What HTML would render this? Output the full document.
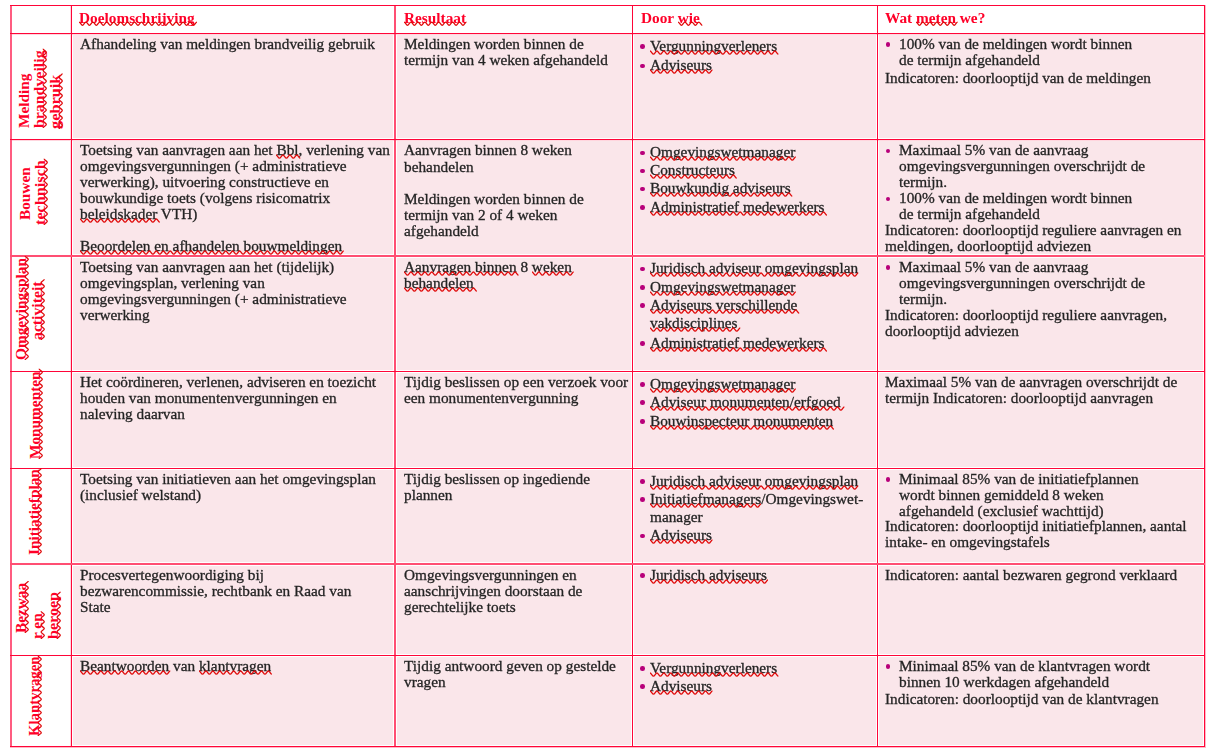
<!DOCTYPE html>
<html><head><meta charset="utf-8"><style>
html,body{margin:0;padding:0;background:#fff;width:1210px;height:751px;overflow:hidden;position:relative}
.t,.h{will-change:transform}
.l{position:absolute;background:#ff0538}
.f{position:absolute;background:#fae6ea}
.t,.h,.r{position:absolute;white-space:nowrap;font-family:"Liberation Serif",serif;font-size:15.3px;line-height:normal;width:0;height:0}
.t>span,.h>span,.r>span{position:absolute;left:0;top:-13.63px}
.t{color:#242424;-webkit-text-stroke:0.3px #242424}
.h{color:#ff0028;font-weight:bold}
.r{color:#ff0028;font-weight:bold;transform:rotate(-90deg);transform-origin:0 0}
svg{position:absolute;overflow:visible}
.b{position:absolute;width:4.6px;height:4.6px;border-radius:50%;background:#b8007a}
</style></head><body>

<div class="f" style="left:73px;top:35px;width:320px;height:103px"></div>
<div class="f" style="left:397px;top:35px;width:234px;height:103px"></div>
<div class="f" style="left:634px;top:35px;width:242px;height:103px"></div>
<div class="f" style="left:879px;top:35px;width:324px;height:103px"></div>
<div class="f" style="left:73px;top:141px;width:320px;height:113px"></div>
<div class="f" style="left:397px;top:141px;width:234px;height:113px"></div>
<div class="f" style="left:634px;top:141px;width:242px;height:113px"></div>
<div class="f" style="left:879px;top:141px;width:324px;height:113px"></div>
<div class="f" style="left:73px;top:258px;width:320px;height:112px"></div>
<div class="f" style="left:397px;top:258px;width:234px;height:112px"></div>
<div class="f" style="left:634px;top:258px;width:242px;height:112px"></div>
<div class="f" style="left:879px;top:258px;width:324px;height:112px"></div>
<div class="f" style="left:73px;top:373px;width:320px;height:94px"></div>
<div class="f" style="left:397px;top:373px;width:234px;height:94px"></div>
<div class="f" style="left:634px;top:373px;width:242px;height:94px"></div>
<div class="f" style="left:879px;top:373px;width:324px;height:94px"></div>
<div class="f" style="left:73px;top:470px;width:320px;height:92px"></div>
<div class="f" style="left:397px;top:470px;width:234px;height:92px"></div>
<div class="f" style="left:634px;top:470px;width:242px;height:92px"></div>
<div class="f" style="left:879px;top:470px;width:324px;height:92px"></div>
<div class="f" style="left:73px;top:566px;width:320px;height:88px"></div>
<div class="f" style="left:397px;top:566px;width:234px;height:88px"></div>
<div class="f" style="left:634px;top:566px;width:242px;height:88px"></div>
<div class="f" style="left:879px;top:566px;width:324px;height:88px"></div>
<div class="f" style="left:73px;top:657px;width:320px;height:88px"></div>
<div class="f" style="left:397px;top:657px;width:234px;height:88px"></div>
<div class="f" style="left:634px;top:657px;width:242px;height:88px"></div>
<div class="f" style="left:879px;top:657px;width:324px;height:88px"></div>
<div class="l" style="left:1205px;top:5px;width:1px;height:743px;background:#ffb8c6"></div>
<div class="l" style="left:10px;top:747px;width:1196px;height:1px;background:#ffb8c6"></div>
<div class="l" style="left:10px;top:34px;width:1195px;height:1px;background:#ffd6de"></div>
<div class="l" style="left:10px;top:140px;width:1195px;height:1px;background:#ffd6de"></div>
<div class="l" style="left:70px;top:5px;width:1px;height:742px;background:#ffd6de"></div>
<div class="l" style="left:10px;top:5px;width:2px;height:742px;background:#ff5c80"></div>
<div class="l" style="left:71px;top:5px;width:1px;height:742px;background:#ff0538"></div>
<div class="l" style="left:394px;top:5px;width:2px;height:742px;background:#ff4f73"></div>
<div class="l" style="left:632px;top:5px;width:1px;height:742px;background:#ff0538"></div>
<div class="l" style="left:877px;top:5px;width:1px;height:742px;background:#ff0538"></div>
<div class="l" style="left:1204px;top:5px;width:1px;height:742px;background:#ff0538"></div>
<div class="l" style="left:10px;top:5px;width:1195px;height:1px;background:#ff0538"></div>
<div class="l" style="left:10px;top:33px;width:1195px;height:1px;background:#ff0538"></div>
<div class="l" style="left:10px;top:139px;width:1195px;height:1px;background:#ff0538"></div>
<div class="l" style="left:10px;top:255px;width:1195px;height:2px;background:#ff4f73"></div>
<div class="l" style="left:10px;top:371px;width:1195px;height:1px;background:#ff0538"></div>
<div class="l" style="left:10px;top:468px;width:1195px;height:1px;background:#ff0538"></div>
<div class="l" style="left:10px;top:563px;width:1195px;height:2px;background:#ff4f73"></div>
<div class="l" style="left:10px;top:655px;width:1195px;height:1px;background:#ff0538"></div>
<div class="l" style="left:10px;top:746px;width:1195px;height:1px;background:#ff0538"></div>
<div class="b" style="left:640.4px;top:44.2px"></div>
<div class="b" style="left:640.4px;top:63.6px"></div>
<div class="b" style="left:885.7px;top:42.1px"></div>
<div class="b" style="left:640.4px;top:150.7px"></div>
<div class="b" style="left:640.4px;top:168.7px"></div>
<div class="b" style="left:640.4px;top:186.8px"></div>
<div class="b" style="left:640.4px;top:205.2px"></div>
<div class="b" style="left:885.7px;top:148.5px"></div>
<div class="b" style="left:885.7px;top:196.5px"></div>
<div class="b" style="left:640.4px;top:266.8px"></div>
<div class="b" style="left:640.4px;top:285.2px"></div>
<div class="b" style="left:640.4px;top:303.4px"></div>
<div class="b" style="left:640.4px;top:341.4px"></div>
<div class="b" style="left:885.7px;top:265.0px"></div>
<div class="b" style="left:640.4px;top:382.0px"></div>
<div class="b" style="left:640.4px;top:400.2px"></div>
<div class="b" style="left:640.4px;top:419.1px"></div>
<div class="b" style="left:640.4px;top:479.0px"></div>
<div class="b" style="left:640.4px;top:497.2px"></div>
<div class="b" style="left:640.4px;top:533.9px"></div>
<div class="b" style="left:885.7px;top:477.0px"></div>
<div class="b" style="left:640.4px;top:573.0px"></div>
<div class="b" style="left:640.4px;top:666.0px"></div>
<div class="b" style="left:640.4px;top:684.2px"></div>
<div class="b" style="left:885.7px;top:664.0px"></div>
<div class="h" style="left:79.1px;top:22.7px"><span><u id="u0" style="text-decoration:none">Doelomschrijving</u></span><svg width="1" height="1" style="left:0;top:0"><path d="M0.00,-0.90 C1.26,-0.90 2.21,2.30 3.47,2.30 C4.73,2.30 5.68,-0.90 6.94,-0.90 C8.20,-0.90 9.15,2.30 10.41,2.30 C11.67,2.30 12.62,-0.90 13.88,-0.90 C15.14,-0.90 16.09,2.30 17.35,2.30 C18.61,2.30 19.56,-0.90 20.82,-0.90 C22.08,-0.90 23.03,2.30 24.29,2.30 C25.55,2.30 26.50,-0.90 27.76,-0.90 C29.02,-0.90 29.97,2.30 31.23,2.30 C32.49,2.30 33.44,-0.90 34.70,-0.90 C35.96,-0.90 36.91,2.30 38.17,2.30 C39.43,2.30 40.38,-0.90 41.64,-0.90 C42.90,-0.90 43.85,2.30 45.11,2.30 C46.37,2.30 47.32,-0.90 48.58,-0.90 C49.84,-0.90 50.79,2.30 52.05,2.30 C53.31,2.30 54.26,-0.90 55.52,-0.90 C56.78,-0.90 57.73,2.30 58.99,2.30 C60.25,2.30 61.20,-0.90 62.46,-0.90 C63.72,-0.90 64.67,2.30 65.93,2.30 C67.19,2.30 68.14,-0.90 69.40,-0.90 C70.66,-0.90 71.61,2.30 72.87,2.30 C74.13,2.30 75.08,-0.90 76.34,-0.90 C77.60,-0.90 78.55,2.30 79.81,2.30 C81.07,2.30 82.02,-0.90 83.28,-0.90 C84.54,-0.90 85.49,2.30 86.75,2.30 C88.01,2.30 88.96,-0.90 90.22,-0.90 C91.48,-0.90 92.43,2.30 93.69,2.30 C94.95,2.30 95.90,-0.90 97.16,-0.90 C98.42,-0.90 99.37,2.30 100.63,2.30 C101.89,2.30 102.84,-0.90 104.10,-0.90 C105.36,-0.90 106.31,2.30 107.57,2.30 C108.83,2.30 109.78,-0.90 111.04,-0.90 C112.30,-0.90 113.25,2.30 114.51,2.30 C115.77,2.30 116.72,-0.90 117.98,-0.90" fill="none" stroke="#e00b0b" stroke-width="1.3"/></svg></div>
<div class="h" style="left:403.6px;top:22.7px"><span><u id="u1" style="text-decoration:none">Resultaat</u></span><svg width="1" height="1" style="left:0;top:0"><path d="M0.00,-0.90 C1.26,-0.90 2.21,2.30 3.47,2.30 C4.73,2.30 5.68,-0.90 6.94,-0.90 C8.20,-0.90 9.15,2.30 10.41,2.30 C11.67,2.30 12.62,-0.90 13.88,-0.90 C15.14,-0.90 16.09,2.30 17.35,2.30 C18.61,2.30 19.56,-0.90 20.82,-0.90 C22.08,-0.90 23.03,2.30 24.29,2.30 C25.55,2.30 26.50,-0.90 27.76,-0.90 C29.02,-0.90 29.97,2.30 31.23,2.30 C32.49,2.30 33.44,-0.90 34.70,-0.90 C35.96,-0.90 36.91,2.30 38.17,2.30 C39.43,2.30 40.38,-0.90 41.64,-0.90 C42.90,-0.90 43.85,2.30 45.11,2.30 C46.37,2.30 47.32,-0.90 48.58,-0.90 C49.84,-0.90 50.79,2.30 52.05,2.30 C53.31,2.30 54.26,-0.90 55.52,-0.90 C56.78,-0.90 57.73,2.30 58.99,2.30 C60.25,2.30 61.20,-0.90 62.46,-0.90" fill="none" stroke="#e00b0b" stroke-width="1.3"/></svg></div>
<div class="h" style="left:640.7px;top:22.7px"><span>Door <u id="u2" style="text-decoration:none">wie</u></span><svg width="1" height="1" style="left:0;top:0"><path d="M37.00,-0.90 C38.26,-0.90 39.21,2.30 40.47,2.30 C41.73,2.30 42.68,-0.90 43.94,-0.90 C45.20,-0.90 46.15,2.30 47.41,2.30 C48.67,2.30 49.62,-0.90 50.88,-0.90 C52.14,-0.90 53.09,2.30 54.35,2.30 C55.61,2.30 56.56,-0.90 57.82,-0.90 C59.08,-0.90 60.03,2.30 61.29,2.30" fill="none" stroke="#e00b0b" stroke-width="1.3"/></svg></div>
<div class="h" style="left:885.3px;top:22.7px"><span>Wat <u id="u3" style="text-decoration:none">meten</u> we?</span><svg width="1" height="1" style="left:0;top:0"><path d="M31.00,-0.90 C32.26,-0.90 33.21,2.30 34.47,2.30 C35.73,2.30 36.68,-0.90 37.94,-0.90 C39.20,-0.90 40.15,2.30 41.41,2.30 C42.67,2.30 43.62,-0.90 44.88,-0.90 C46.14,-0.90 47.09,2.30 48.35,2.30 C49.61,2.30 50.56,-0.90 51.82,-0.90 C53.08,-0.90 54.03,2.30 55.29,2.30 C56.55,2.30 57.50,-0.90 58.76,-0.90 C60.02,-0.90 60.97,2.30 62.23,2.30 C63.49,2.30 64.44,-0.90 65.70,-0.90 C66.96,-0.90 67.91,2.30 69.17,2.30 C70.43,2.30 71.38,-0.90 72.64,-0.90" fill="none" stroke="#e00b0b" stroke-width="1.3"/></svg></div>
<div class="t" style="left:79.5px;top:48.5px"><span>Afhandeling van meldingen brandveilig gebruik</span></div>
<div class="t" style="left:404px;top:48.9px"><span>Meldingen worden binnen de</span></div>
<div class="t" style="left:404px;top:64.7px"><span>termijn van 4 weken afgehandeld</span></div>
<div class="t" style="left:649.7px;top:50.7px"><span><u id="u4" style="text-decoration:none">Vergunningverleners</u></span><svg width="1" height="1" style="left:0;top:0"><path d="M0.00,0.00 C1.26,0.00 2.21,3.20 3.47,3.20 C4.73,3.20 5.68,0.00 6.94,0.00 C8.20,0.00 9.15,3.20 10.41,3.20 C11.67,3.20 12.62,0.00 13.88,0.00 C15.14,0.00 16.09,3.20 17.35,3.20 C18.61,3.20 19.56,0.00 20.82,0.00 C22.08,0.00 23.03,3.20 24.29,3.20 C25.55,3.20 26.50,0.00 27.76,0.00 C29.02,0.00 29.97,3.20 31.23,3.20 C32.49,3.20 33.44,0.00 34.70,0.00 C35.96,0.00 36.91,3.20 38.17,3.20 C39.43,3.20 40.38,0.00 41.64,0.00 C42.90,0.00 43.85,3.20 45.11,3.20 C46.37,3.20 47.32,0.00 48.58,0.00 C49.84,0.00 50.79,3.20 52.05,3.20 C53.31,3.20 54.26,0.00 55.52,0.00 C56.78,0.00 57.73,3.20 58.99,3.20 C60.25,3.20 61.20,0.00 62.46,0.00 C63.72,0.00 64.67,3.20 65.93,3.20 C67.19,3.20 68.14,0.00 69.40,0.00 C70.66,0.00 71.61,3.20 72.87,3.20 C74.13,3.20 75.08,0.00 76.34,0.00 C77.60,0.00 78.55,3.20 79.81,3.20 C81.07,3.20 82.02,0.00 83.28,0.00 C84.54,0.00 85.49,3.20 86.75,3.20 C88.01,3.20 88.96,0.00 90.22,0.00 C91.48,0.00 92.43,3.20 93.69,3.20 C94.95,3.20 95.90,0.00 97.16,0.00 C98.42,0.00 99.37,3.20 100.63,3.20 C101.89,3.20 102.84,0.00 104.10,0.00 C105.36,0.00 106.31,3.20 107.57,3.20 C108.83,3.20 109.78,0.00 111.04,0.00 C112.30,0.00 113.25,3.20 114.51,3.20 C115.77,3.20 116.72,0.00 117.98,0.00 C119.24,0.00 120.19,3.20 121.45,3.20 C122.71,3.20 123.66,0.00 124.92,0.00 C126.18,0.00 127.13,3.20 128.39,3.20" fill="none" stroke="#e00b0b" stroke-width="1.3"/></svg></div>
<div class="t" style="left:649.7px;top:70.1px"><span><u id="u5" style="text-decoration:none">Adviseurs</u></span><svg width="1" height="1" style="left:0;top:0"><path d="M0.00,0.00 C1.26,0.00 2.21,3.20 3.47,3.20 C4.73,3.20 5.68,0.00 6.94,0.00 C8.20,0.00 9.15,3.20 10.41,3.20 C11.67,3.20 12.62,0.00 13.88,0.00 C15.14,0.00 16.09,3.20 17.35,3.20 C18.61,3.20 19.56,0.00 20.82,0.00 C22.08,0.00 23.03,3.20 24.29,3.20 C25.55,3.20 26.50,0.00 27.76,0.00 C29.02,0.00 29.97,3.20 31.23,3.20 C32.49,3.20 33.44,0.00 34.70,0.00 C35.96,0.00 36.91,3.20 38.17,3.20 C39.43,3.20 40.38,0.00 41.64,0.00 C42.90,0.00 43.85,3.20 45.11,3.20 C46.37,3.20 47.32,0.00 48.58,0.00 C49.84,0.00 50.79,3.20 52.05,3.20 C53.31,3.20 54.26,0.00 55.52,0.00 C56.78,0.00 57.73,3.20 58.99,3.20 C60.25,3.20 61.20,0.00 62.46,0.00" fill="none" stroke="#e00b0b" stroke-width="1.3"/></svg></div>
<div class="t" style="left:899.2px;top:48.6px"><span>100% van de meldingen wordt binnen</span></div>
<div class="t" style="left:899.2px;top:64.7px"><span>de termijn afgehandeld</span></div>
<div class="t" style="left:885.2px;top:82.6px"><span>Indicatoren: doorlooptijd van de meldingen</span></div>
<div class="t" style="left:79.5px;top:155px"><span>Toetsing van aanvragen aan het <u id="u6" style="text-decoration:none">Bbl</u>, verlening van</span><svg width="1" height="1" style="left:0;top:0"><path d="M196.00,0.00 C197.26,0.00 198.21,3.20 199.47,3.20 C200.73,3.20 201.68,0.00 202.94,0.00 C204.20,0.00 205.15,3.20 206.41,3.20 C207.67,3.20 208.62,0.00 209.88,0.00 C211.14,0.00 212.09,3.20 213.35,3.20 C214.61,3.20 215.56,0.00 216.82,0.00 C218.08,0.00 219.03,3.20 220.29,3.20" fill="none" stroke="#e00b0b" stroke-width="1.3"/></svg></div>
<div class="t" style="left:79.5px;top:171px"><span>omgevingsvergunningen (+ administratieve</span></div>
<div class="t" style="left:79.5px;top:187px"><span>verwerking), uitvoering constructieve en</span></div>
<div class="t" style="left:79.5px;top:203px"><span>bouwkundige toets (volgens risicomatrix</span></div>
<div class="t" style="left:79.5px;top:219px"><span><u id="u7" style="text-decoration:none">beleidskader</u> VTH)</span><svg width="1" height="1" style="left:0;top:0"><path d="M0.00,0.00 C1.26,0.00 2.21,3.20 3.47,3.20 C4.73,3.20 5.68,0.00 6.94,0.00 C8.20,0.00 9.15,3.20 10.41,3.20 C11.67,3.20 12.62,0.00 13.88,0.00 C15.14,0.00 16.09,3.20 17.35,3.20 C18.61,3.20 19.56,0.00 20.82,0.00 C22.08,0.00 23.03,3.20 24.29,3.20 C25.55,3.20 26.50,0.00 27.76,0.00 C29.02,0.00 29.97,3.20 31.23,3.20 C32.49,3.20 33.44,0.00 34.70,0.00 C35.96,0.00 36.91,3.20 38.17,3.20 C39.43,3.20 40.38,0.00 41.64,0.00 C42.90,0.00 43.85,3.20 45.11,3.20 C46.37,3.20 47.32,0.00 48.58,0.00 C49.84,0.00 50.79,3.20 52.05,3.20 C53.31,3.20 54.26,0.00 55.52,0.00 C56.78,0.00 57.73,3.20 58.99,3.20 C60.25,3.20 61.20,0.00 62.46,0.00 C63.72,0.00 64.67,3.20 65.93,3.20 C67.19,3.20 68.14,0.00 69.40,0.00 C70.66,0.00 71.61,3.20 72.87,3.20 C74.13,3.20 75.08,0.00 76.34,0.00 C77.60,0.00 78.55,3.20 79.81,3.20" fill="none" stroke="#e00b0b" stroke-width="1.3"/></svg></div>
<div class="t" style="left:79.5px;top:251px"><span><u id="u8" style="text-decoration:none">Beoordelen en afhandelen bouwmeldingen</u></span><svg width="1" height="1" style="left:0;top:0"><path d="M0.00,0.00 C1.26,0.00 2.21,3.20 3.47,3.20 C4.73,3.20 5.68,0.00 6.94,0.00 C8.20,0.00 9.15,3.20 10.41,3.20 C11.67,3.20 12.62,0.00 13.88,0.00 C15.14,0.00 16.09,3.20 17.35,3.20 C18.61,3.20 19.56,0.00 20.82,0.00 C22.08,0.00 23.03,3.20 24.29,3.20 C25.55,3.20 26.50,0.00 27.76,0.00 C29.02,0.00 29.97,3.20 31.23,3.20 C32.49,3.20 33.44,0.00 34.70,0.00 C35.96,0.00 36.91,3.20 38.17,3.20 C39.43,3.20 40.38,0.00 41.64,0.00 C42.90,0.00 43.85,3.20 45.11,3.20 C46.37,3.20 47.32,0.00 48.58,0.00 C49.84,0.00 50.79,3.20 52.05,3.20 C53.31,3.20 54.26,0.00 55.52,0.00 C56.78,0.00 57.73,3.20 58.99,3.20 C60.25,3.20 61.20,0.00 62.46,0.00 C63.72,0.00 64.67,3.20 65.93,3.20 C67.19,3.20 68.14,0.00 69.40,0.00 C70.66,0.00 71.61,3.20 72.87,3.20 C74.13,3.20 75.08,0.00 76.34,0.00 C77.60,0.00 78.55,3.20 79.81,3.20 C81.07,3.20 82.02,0.00 83.28,0.00 C84.54,0.00 85.49,3.20 86.75,3.20 C88.01,3.20 88.96,0.00 90.22,0.00 C91.48,0.00 92.43,3.20 93.69,3.20 C94.95,3.20 95.90,0.00 97.16,0.00 C98.42,0.00 99.37,3.20 100.63,3.20 C101.89,3.20 102.84,0.00 104.10,0.00 C105.36,0.00 106.31,3.20 107.57,3.20 C108.83,3.20 109.78,0.00 111.04,0.00 C112.30,0.00 113.25,3.20 114.51,3.20 C115.77,3.20 116.72,0.00 117.98,0.00 C119.24,0.00 120.19,3.20 121.45,3.20 C122.71,3.20 123.66,0.00 124.92,0.00 C126.18,0.00 127.13,3.20 128.39,3.20 C129.65,3.20 130.60,0.00 131.86,0.00 C133.12,0.00 134.07,3.20 135.33,3.20 C136.59,3.20 137.54,0.00 138.80,0.00 C140.06,0.00 141.01,3.20 142.27,3.20 C143.53,3.20 144.48,0.00 145.74,0.00 C147.00,0.00 147.95,3.20 149.21,3.20 C150.47,3.20 151.42,0.00 152.68,0.00 C153.94,0.00 154.89,3.20 156.15,3.20 C157.41,3.20 158.36,0.00 159.62,0.00 C160.88,0.00 161.83,3.20 163.09,3.20 C164.35,3.20 165.30,0.00 166.56,0.00 C167.82,0.00 168.77,3.20 170.03,3.20 C171.29,3.20 172.24,0.00 173.50,0.00 C174.76,0.00 175.71,3.20 176.97,3.20 C178.23,3.20 179.18,0.00 180.44,0.00 C181.70,0.00 182.65,3.20 183.91,3.20 C185.17,3.20 186.12,0.00 187.38,0.00 C188.64,0.00 189.59,3.20 190.85,3.20 C192.11,3.20 193.06,0.00 194.32,0.00 C195.58,0.00 196.53,3.20 197.79,3.20 C199.05,3.20 200.00,0.00 201.26,0.00 C202.52,0.00 203.47,3.20 204.73,3.20 C205.99,3.20 206.94,0.00 208.20,0.00 C209.46,0.00 210.41,3.20 211.67,3.20 C212.93,3.20 213.88,0.00 215.14,0.00 C216.40,0.00 217.35,3.20 218.61,3.20 C219.87,3.20 220.82,0.00 222.08,0.00 C223.34,0.00 224.29,3.20 225.55,3.20 C226.81,3.20 227.76,0.00 229.02,0.00 C230.28,0.00 231.23,3.20 232.49,3.20 C233.75,3.20 234.70,0.00 235.96,0.00 C237.22,0.00 238.17,3.20 239.43,3.20 C240.69,3.20 241.64,0.00 242.90,0.00 C244.16,0.00 245.11,3.20 246.37,3.20 C247.63,3.20 248.58,0.00 249.84,0.00 C251.10,0.00 252.05,3.20 253.31,3.20 C254.57,3.20 255.52,0.00 256.78,0.00 C258.04,0.00 258.99,3.20 260.25,3.20 C261.51,3.20 262.46,0.00 263.72,0.00" fill="none" stroke="#e00b0b" stroke-width="1.3"/></svg></div>
<div class="t" style="left:404px;top:155px"><span>Aanvragen binnen 8 weken</span></div>
<div class="t" style="left:404px;top:171.5px"><span>behandelen</span></div>
<div class="t" style="left:404px;top:204px"><span>Meldingen worden binnen de</span></div>
<div class="t" style="left:404px;top:220px"><span>termijn van 2 of 4 weken</span></div>
<div class="t" style="left:404px;top:236px"><span>afgehandeld</span></div>
<div class="t" style="left:649.7px;top:157.2px"><span><u id="u9" style="text-decoration:none">Omgevingswetmanager</u></span><svg width="1" height="1" style="left:0;top:0"><path d="M0.00,0.00 C1.26,0.00 2.21,3.20 3.47,3.20 C4.73,3.20 5.68,0.00 6.94,0.00 C8.20,0.00 9.15,3.20 10.41,3.20 C11.67,3.20 12.62,0.00 13.88,0.00 C15.14,0.00 16.09,3.20 17.35,3.20 C18.61,3.20 19.56,0.00 20.82,0.00 C22.08,0.00 23.03,3.20 24.29,3.20 C25.55,3.20 26.50,0.00 27.76,0.00 C29.02,0.00 29.97,3.20 31.23,3.20 C32.49,3.20 33.44,0.00 34.70,0.00 C35.96,0.00 36.91,3.20 38.17,3.20 C39.43,3.20 40.38,0.00 41.64,0.00 C42.90,0.00 43.85,3.20 45.11,3.20 C46.37,3.20 47.32,0.00 48.58,0.00 C49.84,0.00 50.79,3.20 52.05,3.20 C53.31,3.20 54.26,0.00 55.52,0.00 C56.78,0.00 57.73,3.20 58.99,3.20 C60.25,3.20 61.20,0.00 62.46,0.00 C63.72,0.00 64.67,3.20 65.93,3.20 C67.19,3.20 68.14,0.00 69.40,0.00 C70.66,0.00 71.61,3.20 72.87,3.20 C74.13,3.20 75.08,0.00 76.34,0.00 C77.60,0.00 78.55,3.20 79.81,3.20 C81.07,3.20 82.02,0.00 83.28,0.00 C84.54,0.00 85.49,3.20 86.75,3.20 C88.01,3.20 88.96,0.00 90.22,0.00 C91.48,0.00 92.43,3.20 93.69,3.20 C94.95,3.20 95.90,0.00 97.16,0.00 C98.42,0.00 99.37,3.20 100.63,3.20 C101.89,3.20 102.84,0.00 104.10,0.00 C105.36,0.00 106.31,3.20 107.57,3.20 C108.83,3.20 109.78,0.00 111.04,0.00 C112.30,0.00 113.25,3.20 114.51,3.20 C115.77,3.20 116.72,0.00 117.98,0.00 C119.24,0.00 120.19,3.20 121.45,3.20 C122.71,3.20 123.66,0.00 124.92,0.00 C126.18,0.00 127.13,3.20 128.39,3.20 C129.65,3.20 130.60,0.00 131.86,0.00 C133.12,0.00 134.07,3.20 135.33,3.20 C136.59,3.20 137.54,0.00 138.80,0.00 C140.06,0.00 141.01,3.20 142.27,3.20 C143.53,3.20 144.48,0.00 145.74,0.00" fill="none" stroke="#e00b0b" stroke-width="1.3"/></svg></div>
<div class="t" style="left:649.7px;top:175.2px"><span><u id="u10" style="text-decoration:none">Constructeurs</u></span><svg width="1" height="1" style="left:0;top:0"><path d="M0.00,0.00 C1.26,0.00 2.21,3.20 3.47,3.20 C4.73,3.20 5.68,0.00 6.94,0.00 C8.20,0.00 9.15,3.20 10.41,3.20 C11.67,3.20 12.62,0.00 13.88,0.00 C15.14,0.00 16.09,3.20 17.35,3.20 C18.61,3.20 19.56,0.00 20.82,0.00 C22.08,0.00 23.03,3.20 24.29,3.20 C25.55,3.20 26.50,0.00 27.76,0.00 C29.02,0.00 29.97,3.20 31.23,3.20 C32.49,3.20 33.44,0.00 34.70,0.00 C35.96,0.00 36.91,3.20 38.17,3.20 C39.43,3.20 40.38,0.00 41.64,0.00 C42.90,0.00 43.85,3.20 45.11,3.20 C46.37,3.20 47.32,0.00 48.58,0.00 C49.84,0.00 50.79,3.20 52.05,3.20 C53.31,3.20 54.26,0.00 55.52,0.00 C56.78,0.00 57.73,3.20 58.99,3.20 C60.25,3.20 61.20,0.00 62.46,0.00 C63.72,0.00 64.67,3.20 65.93,3.20 C67.19,3.20 68.14,0.00 69.40,0.00 C70.66,0.00 71.61,3.20 72.87,3.20 C74.13,3.20 75.08,0.00 76.34,0.00 C77.60,0.00 78.55,3.20 79.81,3.20 C81.07,3.20 82.02,0.00 83.28,0.00 C84.54,0.00 85.49,3.20 86.75,3.20" fill="none" stroke="#e00b0b" stroke-width="1.3"/></svg></div>
<div class="t" style="left:649.7px;top:193.3px"><span><u id="u11" style="text-decoration:none">Bouwkundig adviseurs</u></span><svg width="1" height="1" style="left:0;top:0"><path d="M0.00,0.00 C1.26,0.00 2.21,3.20 3.47,3.20 C4.73,3.20 5.68,0.00 6.94,0.00 C8.20,0.00 9.15,3.20 10.41,3.20 C11.67,3.20 12.62,0.00 13.88,0.00 C15.14,0.00 16.09,3.20 17.35,3.20 C18.61,3.20 19.56,0.00 20.82,0.00 C22.08,0.00 23.03,3.20 24.29,3.20 C25.55,3.20 26.50,0.00 27.76,0.00 C29.02,0.00 29.97,3.20 31.23,3.20 C32.49,3.20 33.44,0.00 34.70,0.00 C35.96,0.00 36.91,3.20 38.17,3.20 C39.43,3.20 40.38,0.00 41.64,0.00 C42.90,0.00 43.85,3.20 45.11,3.20 C46.37,3.20 47.32,0.00 48.58,0.00 C49.84,0.00 50.79,3.20 52.05,3.20 C53.31,3.20 54.26,0.00 55.52,0.00 C56.78,0.00 57.73,3.20 58.99,3.20 C60.25,3.20 61.20,0.00 62.46,0.00 C63.72,0.00 64.67,3.20 65.93,3.20 C67.19,3.20 68.14,0.00 69.40,0.00 C70.66,0.00 71.61,3.20 72.87,3.20 C74.13,3.20 75.08,0.00 76.34,0.00 C77.60,0.00 78.55,3.20 79.81,3.20 C81.07,3.20 82.02,0.00 83.28,0.00 C84.54,0.00 85.49,3.20 86.75,3.20 C88.01,3.20 88.96,0.00 90.22,0.00 C91.48,0.00 92.43,3.20 93.69,3.20 C94.95,3.20 95.90,0.00 97.16,0.00 C98.42,0.00 99.37,3.20 100.63,3.20 C101.89,3.20 102.84,0.00 104.10,0.00 C105.36,0.00 106.31,3.20 107.57,3.20 C108.83,3.20 109.78,0.00 111.04,0.00 C112.30,0.00 113.25,3.20 114.51,3.20 C115.77,3.20 116.72,0.00 117.98,0.00 C119.24,0.00 120.19,3.20 121.45,3.20 C122.71,3.20 123.66,0.00 124.92,0.00 C126.18,0.00 127.13,3.20 128.39,3.20 C129.65,3.20 130.60,0.00 131.86,0.00 C133.12,0.00 134.07,3.20 135.33,3.20 C136.59,3.20 137.54,0.00 138.80,0.00 C140.06,0.00 141.01,3.20 142.27,3.20" fill="none" stroke="#e00b0b" stroke-width="1.3"/></svg></div>
<div class="t" style="left:649.7px;top:211.7px"><span><u id="u12" style="text-decoration:none">Administratief medewerkers</u></span><svg width="1" height="1" style="left:0;top:0"><path d="M0.00,0.00 C1.26,0.00 2.21,3.20 3.47,3.20 C4.73,3.20 5.68,0.00 6.94,0.00 C8.20,0.00 9.15,3.20 10.41,3.20 C11.67,3.20 12.62,0.00 13.88,0.00 C15.14,0.00 16.09,3.20 17.35,3.20 C18.61,3.20 19.56,0.00 20.82,0.00 C22.08,0.00 23.03,3.20 24.29,3.20 C25.55,3.20 26.50,0.00 27.76,0.00 C29.02,0.00 29.97,3.20 31.23,3.20 C32.49,3.20 33.44,0.00 34.70,0.00 C35.96,0.00 36.91,3.20 38.17,3.20 C39.43,3.20 40.38,0.00 41.64,0.00 C42.90,0.00 43.85,3.20 45.11,3.20 C46.37,3.20 47.32,0.00 48.58,0.00 C49.84,0.00 50.79,3.20 52.05,3.20 C53.31,3.20 54.26,0.00 55.52,0.00 C56.78,0.00 57.73,3.20 58.99,3.20 C60.25,3.20 61.20,0.00 62.46,0.00 C63.72,0.00 64.67,3.20 65.93,3.20 C67.19,3.20 68.14,0.00 69.40,0.00 C70.66,0.00 71.61,3.20 72.87,3.20 C74.13,3.20 75.08,0.00 76.34,0.00 C77.60,0.00 78.55,3.20 79.81,3.20 C81.07,3.20 82.02,0.00 83.28,0.00 C84.54,0.00 85.49,3.20 86.75,3.20 C88.01,3.20 88.96,0.00 90.22,0.00 C91.48,0.00 92.43,3.20 93.69,3.20 C94.95,3.20 95.90,0.00 97.16,0.00 C98.42,0.00 99.37,3.20 100.63,3.20 C101.89,3.20 102.84,0.00 104.10,0.00 C105.36,0.00 106.31,3.20 107.57,3.20 C108.83,3.20 109.78,0.00 111.04,0.00 C112.30,0.00 113.25,3.20 114.51,3.20 C115.77,3.20 116.72,0.00 117.98,0.00 C119.24,0.00 120.19,3.20 121.45,3.20 C122.71,3.20 123.66,0.00 124.92,0.00 C126.18,0.00 127.13,3.20 128.39,3.20 C129.65,3.20 130.60,0.00 131.86,0.00 C133.12,0.00 134.07,3.20 135.33,3.20 C136.59,3.20 137.54,0.00 138.80,0.00 C140.06,0.00 141.01,3.20 142.27,3.20 C143.53,3.20 144.48,0.00 145.74,0.00 C147.00,0.00 147.95,3.20 149.21,3.20 C150.47,3.20 151.42,0.00 152.68,0.00 C153.94,0.00 154.89,3.20 156.15,3.20 C157.41,3.20 158.36,0.00 159.62,0.00 C160.88,0.00 161.83,3.20 163.09,3.20 C164.35,3.20 165.30,0.00 166.56,0.00 C167.82,0.00 168.77,3.20 170.03,3.20 C171.29,3.20 172.24,0.00 173.50,0.00 C174.76,0.00 175.71,3.20 176.97,3.20" fill="none" stroke="#e00b0b" stroke-width="1.3"/></svg></div>
<div class="t" style="left:899.2px;top:155px"><span>Maximaal 5% van de aanvraag</span></div>
<div class="t" style="left:899.2px;top:171px"><span>omgevingsvergunningen overschrijdt de</span></div>
<div class="t" style="left:899.2px;top:187px"><span>termijn.</span></div>
<div class="t" style="left:899.2px;top:203px"><span>100% van de meldingen wordt binnen</span></div>
<div class="t" style="left:899.2px;top:219px"><span>de termijn afgehandeld</span></div>
<div class="t" style="left:885.2px;top:235px"><span>Indicatoren: doorlooptijd reguliere aanvragen en</span></div>
<div class="t" style="left:885.2px;top:251px"><span>meldingen, doorlooptijd adviezen</span></div>
<div class="t" style="left:79.5px;top:271.5px"><span>Toetsing van aanvragen aan het (tijdelijk)</span></div>
<div class="t" style="left:79.5px;top:287.5px"><span>omgevingsplan, verlening van</span></div>
<div class="t" style="left:79.5px;top:303.5px"><span>omgevingsvergunningen (+ administratieve</span></div>
<div class="t" style="left:79.5px;top:319.5px"><span>verwerking</span></div>
<div class="t" style="left:404px;top:272px"><span><u id="u13" style="text-decoration:none">Aanvragen binnen</u> 8 <u id="u14" style="text-decoration:none">weken</u></span><svg width="1" height="1" style="left:0;top:0"><path d="M0.00,0.00 C1.26,0.00 2.21,3.20 3.47,3.20 C4.73,3.20 5.68,0.00 6.94,0.00 C8.20,0.00 9.15,3.20 10.41,3.20 C11.67,3.20 12.62,0.00 13.88,0.00 C15.14,0.00 16.09,3.20 17.35,3.20 C18.61,3.20 19.56,0.00 20.82,0.00 C22.08,0.00 23.03,3.20 24.29,3.20 C25.55,3.20 26.50,0.00 27.76,0.00 C29.02,0.00 29.97,3.20 31.23,3.20 C32.49,3.20 33.44,0.00 34.70,0.00 C35.96,0.00 36.91,3.20 38.17,3.20 C39.43,3.20 40.38,0.00 41.64,0.00 C42.90,0.00 43.85,3.20 45.11,3.20 C46.37,3.20 47.32,0.00 48.58,0.00 C49.84,0.00 50.79,3.20 52.05,3.20 C53.31,3.20 54.26,0.00 55.52,0.00 C56.78,0.00 57.73,3.20 58.99,3.20 C60.25,3.20 61.20,0.00 62.46,0.00 C63.72,0.00 64.67,3.20 65.93,3.20 C67.19,3.20 68.14,0.00 69.40,0.00 C70.66,0.00 71.61,3.20 72.87,3.20 C74.13,3.20 75.08,0.00 76.34,0.00 C77.60,0.00 78.55,3.20 79.81,3.20 C81.07,3.20 82.02,0.00 83.28,0.00 C84.54,0.00 85.49,3.20 86.75,3.20 C88.01,3.20 88.96,0.00 90.22,0.00 C91.48,0.00 92.43,3.20 93.69,3.20 C94.95,3.20 95.90,0.00 97.16,0.00 C98.42,0.00 99.37,3.20 100.63,3.20 C101.89,3.20 102.84,0.00 104.10,0.00 C105.36,0.00 106.31,3.20 107.57,3.20 C108.83,3.20 109.78,0.00 111.04,0.00 C112.30,0.00 113.25,3.20 114.51,3.20" fill="none" stroke="#e00b0b" stroke-width="1.3"/></svg><svg width="1" height="1" style="left:0;top:0"><path d="M128.00,0.00 C129.26,0.00 130.21,3.20 131.47,3.20 C132.73,3.20 133.68,0.00 134.94,0.00 C136.20,0.00 137.15,3.20 138.41,3.20 C139.67,3.20 140.62,0.00 141.88,0.00 C143.14,0.00 144.09,3.20 145.35,3.20 C146.61,3.20 147.56,0.00 148.82,0.00 C150.08,0.00 151.03,3.20 152.29,3.20 C153.55,3.20 154.50,0.00 155.76,0.00 C157.02,0.00 157.97,3.20 159.23,3.20 C160.49,3.20 161.44,0.00 162.70,0.00 C163.96,0.00 164.91,3.20 166.17,3.20 C167.43,3.20 168.38,0.00 169.64,0.00" fill="none" stroke="#e00b0b" stroke-width="1.3"/></svg></div>
<div class="t" style="left:404px;top:288px"><span><u id="u15" style="text-decoration:none">behandelen</u></span><svg width="1" height="1" style="left:0;top:0"><path d="M0.00,0.00 C1.26,0.00 2.21,3.20 3.47,3.20 C4.73,3.20 5.68,0.00 6.94,0.00 C8.20,0.00 9.15,3.20 10.41,3.20 C11.67,3.20 12.62,0.00 13.88,0.00 C15.14,0.00 16.09,3.20 17.35,3.20 C18.61,3.20 19.56,0.00 20.82,0.00 C22.08,0.00 23.03,3.20 24.29,3.20 C25.55,3.20 26.50,0.00 27.76,0.00 C29.02,0.00 29.97,3.20 31.23,3.20 C32.49,3.20 33.44,0.00 34.70,0.00 C35.96,0.00 36.91,3.20 38.17,3.20 C39.43,3.20 40.38,0.00 41.64,0.00 C42.90,0.00 43.85,3.20 45.11,3.20 C46.37,3.20 47.32,0.00 48.58,0.00 C49.84,0.00 50.79,3.20 52.05,3.20 C53.31,3.20 54.26,0.00 55.52,0.00 C56.78,0.00 57.73,3.20 58.99,3.20 C60.25,3.20 61.20,0.00 62.46,0.00 C63.72,0.00 64.67,3.20 65.93,3.20 C67.19,3.20 68.14,0.00 69.40,0.00 C70.66,0.00 71.61,3.20 72.87,3.20" fill="none" stroke="#e00b0b" stroke-width="1.3"/></svg></div>
<div class="t" style="left:649.7px;top:273.3px"><span><u id="u16" style="text-decoration:none">Juridisch adviseur omgevingsplan</u></span><svg width="1" height="1" style="left:0;top:0"><path d="M0.00,0.00 C1.26,0.00 2.21,3.20 3.47,3.20 C4.73,3.20 5.68,0.00 6.94,0.00 C8.20,0.00 9.15,3.20 10.41,3.20 C11.67,3.20 12.62,0.00 13.88,0.00 C15.14,0.00 16.09,3.20 17.35,3.20 C18.61,3.20 19.56,0.00 20.82,0.00 C22.08,0.00 23.03,3.20 24.29,3.20 C25.55,3.20 26.50,0.00 27.76,0.00 C29.02,0.00 29.97,3.20 31.23,3.20 C32.49,3.20 33.44,0.00 34.70,0.00 C35.96,0.00 36.91,3.20 38.17,3.20 C39.43,3.20 40.38,0.00 41.64,0.00 C42.90,0.00 43.85,3.20 45.11,3.20 C46.37,3.20 47.32,0.00 48.58,0.00 C49.84,0.00 50.79,3.20 52.05,3.20 C53.31,3.20 54.26,0.00 55.52,0.00 C56.78,0.00 57.73,3.20 58.99,3.20 C60.25,3.20 61.20,0.00 62.46,0.00 C63.72,0.00 64.67,3.20 65.93,3.20 C67.19,3.20 68.14,0.00 69.40,0.00 C70.66,0.00 71.61,3.20 72.87,3.20 C74.13,3.20 75.08,0.00 76.34,0.00 C77.60,0.00 78.55,3.20 79.81,3.20 C81.07,3.20 82.02,0.00 83.28,0.00 C84.54,0.00 85.49,3.20 86.75,3.20 C88.01,3.20 88.96,0.00 90.22,0.00 C91.48,0.00 92.43,3.20 93.69,3.20 C94.95,3.20 95.90,0.00 97.16,0.00 C98.42,0.00 99.37,3.20 100.63,3.20 C101.89,3.20 102.84,0.00 104.10,0.00 C105.36,0.00 106.31,3.20 107.57,3.20 C108.83,3.20 109.78,0.00 111.04,0.00 C112.30,0.00 113.25,3.20 114.51,3.20 C115.77,3.20 116.72,0.00 117.98,0.00 C119.24,0.00 120.19,3.20 121.45,3.20 C122.71,3.20 123.66,0.00 124.92,0.00 C126.18,0.00 127.13,3.20 128.39,3.20 C129.65,3.20 130.60,0.00 131.86,0.00 C133.12,0.00 134.07,3.20 135.33,3.20 C136.59,3.20 137.54,0.00 138.80,0.00 C140.06,0.00 141.01,3.20 142.27,3.20 C143.53,3.20 144.48,0.00 145.74,0.00 C147.00,0.00 147.95,3.20 149.21,3.20 C150.47,3.20 151.42,0.00 152.68,0.00 C153.94,0.00 154.89,3.20 156.15,3.20 C157.41,3.20 158.36,0.00 159.62,0.00 C160.88,0.00 161.83,3.20 163.09,3.20 C164.35,3.20 165.30,0.00 166.56,0.00 C167.82,0.00 168.77,3.20 170.03,3.20 C171.29,3.20 172.24,0.00 173.50,0.00 C174.76,0.00 175.71,3.20 176.97,3.20 C178.23,3.20 179.18,0.00 180.44,0.00 C181.70,0.00 182.65,3.20 183.91,3.20 C185.17,3.20 186.12,0.00 187.38,0.00 C188.64,0.00 189.59,3.20 190.85,3.20 C192.11,3.20 193.06,0.00 194.32,0.00 C195.58,0.00 196.53,3.20 197.79,3.20 C199.05,3.20 200.00,0.00 201.26,0.00 C202.52,0.00 203.47,3.20 204.73,3.20 C205.99,3.20 206.94,0.00 208.20,0.00" fill="none" stroke="#e00b0b" stroke-width="1.3"/></svg></div>
<div class="t" style="left:649.7px;top:291.7px"><span><u id="u17" style="text-decoration:none">Omgevingswetmanager</u></span><svg width="1" height="1" style="left:0;top:0"><path d="M0.00,0.00 C1.26,0.00 2.21,3.20 3.47,3.20 C4.73,3.20 5.68,0.00 6.94,0.00 C8.20,0.00 9.15,3.20 10.41,3.20 C11.67,3.20 12.62,0.00 13.88,0.00 C15.14,0.00 16.09,3.20 17.35,3.20 C18.61,3.20 19.56,0.00 20.82,0.00 C22.08,0.00 23.03,3.20 24.29,3.20 C25.55,3.20 26.50,0.00 27.76,0.00 C29.02,0.00 29.97,3.20 31.23,3.20 C32.49,3.20 33.44,0.00 34.70,0.00 C35.96,0.00 36.91,3.20 38.17,3.20 C39.43,3.20 40.38,0.00 41.64,0.00 C42.90,0.00 43.85,3.20 45.11,3.20 C46.37,3.20 47.32,0.00 48.58,0.00 C49.84,0.00 50.79,3.20 52.05,3.20 C53.31,3.20 54.26,0.00 55.52,0.00 C56.78,0.00 57.73,3.20 58.99,3.20 C60.25,3.20 61.20,0.00 62.46,0.00 C63.72,0.00 64.67,3.20 65.93,3.20 C67.19,3.20 68.14,0.00 69.40,0.00 C70.66,0.00 71.61,3.20 72.87,3.20 C74.13,3.20 75.08,0.00 76.34,0.00 C77.60,0.00 78.55,3.20 79.81,3.20 C81.07,3.20 82.02,0.00 83.28,0.00 C84.54,0.00 85.49,3.20 86.75,3.20 C88.01,3.20 88.96,0.00 90.22,0.00 C91.48,0.00 92.43,3.20 93.69,3.20 C94.95,3.20 95.90,0.00 97.16,0.00 C98.42,0.00 99.37,3.20 100.63,3.20 C101.89,3.20 102.84,0.00 104.10,0.00 C105.36,0.00 106.31,3.20 107.57,3.20 C108.83,3.20 109.78,0.00 111.04,0.00 C112.30,0.00 113.25,3.20 114.51,3.20 C115.77,3.20 116.72,0.00 117.98,0.00 C119.24,0.00 120.19,3.20 121.45,3.20 C122.71,3.20 123.66,0.00 124.92,0.00 C126.18,0.00 127.13,3.20 128.39,3.20 C129.65,3.20 130.60,0.00 131.86,0.00 C133.12,0.00 134.07,3.20 135.33,3.20 C136.59,3.20 137.54,0.00 138.80,0.00 C140.06,0.00 141.01,3.20 142.27,3.20 C143.53,3.20 144.48,0.00 145.74,0.00" fill="none" stroke="#e00b0b" stroke-width="1.3"/></svg></div>
<div class="t" style="left:649.7px;top:309.9px"><span><u id="u18" style="text-decoration:none">Adviseurs verschillende</u></span><svg width="1" height="1" style="left:0;top:0"><path d="M0.00,0.00 C1.26,0.00 2.21,3.20 3.47,3.20 C4.73,3.20 5.68,0.00 6.94,0.00 C8.20,0.00 9.15,3.20 10.41,3.20 C11.67,3.20 12.62,0.00 13.88,0.00 C15.14,0.00 16.09,3.20 17.35,3.20 C18.61,3.20 19.56,0.00 20.82,0.00 C22.08,0.00 23.03,3.20 24.29,3.20 C25.55,3.20 26.50,0.00 27.76,0.00 C29.02,0.00 29.97,3.20 31.23,3.20 C32.49,3.20 33.44,0.00 34.70,0.00 C35.96,0.00 36.91,3.20 38.17,3.20 C39.43,3.20 40.38,0.00 41.64,0.00 C42.90,0.00 43.85,3.20 45.11,3.20 C46.37,3.20 47.32,0.00 48.58,0.00 C49.84,0.00 50.79,3.20 52.05,3.20 C53.31,3.20 54.26,0.00 55.52,0.00 C56.78,0.00 57.73,3.20 58.99,3.20 C60.25,3.20 61.20,0.00 62.46,0.00 C63.72,0.00 64.67,3.20 65.93,3.20 C67.19,3.20 68.14,0.00 69.40,0.00 C70.66,0.00 71.61,3.20 72.87,3.20 C74.13,3.20 75.08,0.00 76.34,0.00 C77.60,0.00 78.55,3.20 79.81,3.20 C81.07,3.20 82.02,0.00 83.28,0.00 C84.54,0.00 85.49,3.20 86.75,3.20 C88.01,3.20 88.96,0.00 90.22,0.00 C91.48,0.00 92.43,3.20 93.69,3.20 C94.95,3.20 95.90,0.00 97.16,0.00 C98.42,0.00 99.37,3.20 100.63,3.20 C101.89,3.20 102.84,0.00 104.10,0.00 C105.36,0.00 106.31,3.20 107.57,3.20 C108.83,3.20 109.78,0.00 111.04,0.00 C112.30,0.00 113.25,3.20 114.51,3.20 C115.77,3.20 116.72,0.00 117.98,0.00 C119.24,0.00 120.19,3.20 121.45,3.20 C122.71,3.20 123.66,0.00 124.92,0.00 C126.18,0.00 127.13,3.20 128.39,3.20 C129.65,3.20 130.60,0.00 131.86,0.00 C133.12,0.00 134.07,3.20 135.33,3.20 C136.59,3.20 137.54,0.00 138.80,0.00 C140.06,0.00 141.01,3.20 142.27,3.20 C143.53,3.20 144.48,0.00 145.74,0.00 C147.00,0.00 147.95,3.20 149.21,3.20" fill="none" stroke="#e00b0b" stroke-width="1.3"/></svg></div>
<div class="t" style="left:649.7px;top:327.9px"><span><u id="u19" style="text-decoration:none">vakdisciplines</u></span><svg width="1" height="1" style="left:0;top:0"><path d="M0.00,0.00 C1.26,0.00 2.21,3.20 3.47,3.20 C4.73,3.20 5.68,0.00 6.94,0.00 C8.20,0.00 9.15,3.20 10.41,3.20 C11.67,3.20 12.62,0.00 13.88,0.00 C15.14,0.00 16.09,3.20 17.35,3.20 C18.61,3.20 19.56,0.00 20.82,0.00 C22.08,0.00 23.03,3.20 24.29,3.20 C25.55,3.20 26.50,0.00 27.76,0.00 C29.02,0.00 29.97,3.20 31.23,3.20 C32.49,3.20 33.44,0.00 34.70,0.00 C35.96,0.00 36.91,3.20 38.17,3.20 C39.43,3.20 40.38,0.00 41.64,0.00 C42.90,0.00 43.85,3.20 45.11,3.20 C46.37,3.20 47.32,0.00 48.58,0.00 C49.84,0.00 50.79,3.20 52.05,3.20 C53.31,3.20 54.26,0.00 55.52,0.00 C56.78,0.00 57.73,3.20 58.99,3.20 C60.25,3.20 61.20,0.00 62.46,0.00 C63.72,0.00 64.67,3.20 65.93,3.20 C67.19,3.20 68.14,0.00 69.40,0.00 C70.66,0.00 71.61,3.20 72.87,3.20 C74.13,3.20 75.08,0.00 76.34,0.00 C77.60,0.00 78.55,3.20 79.81,3.20 C81.07,3.20 82.02,0.00 83.28,0.00 C84.54,0.00 85.49,3.20 86.75,3.20 C88.01,3.20 88.96,0.00 90.22,0.00" fill="none" stroke="#e00b0b" stroke-width="1.3"/></svg></div>
<div class="t" style="left:649.7px;top:347.9px"><span><u id="u20" style="text-decoration:none">Administratief medewerkers</u></span><svg width="1" height="1" style="left:0;top:0"><path d="M0.00,0.00 C1.26,0.00 2.21,3.20 3.47,3.20 C4.73,3.20 5.68,0.00 6.94,0.00 C8.20,0.00 9.15,3.20 10.41,3.20 C11.67,3.20 12.62,0.00 13.88,0.00 C15.14,0.00 16.09,3.20 17.35,3.20 C18.61,3.20 19.56,0.00 20.82,0.00 C22.08,0.00 23.03,3.20 24.29,3.20 C25.55,3.20 26.50,0.00 27.76,0.00 C29.02,0.00 29.97,3.20 31.23,3.20 C32.49,3.20 33.44,0.00 34.70,0.00 C35.96,0.00 36.91,3.20 38.17,3.20 C39.43,3.20 40.38,0.00 41.64,0.00 C42.90,0.00 43.85,3.20 45.11,3.20 C46.37,3.20 47.32,0.00 48.58,0.00 C49.84,0.00 50.79,3.20 52.05,3.20 C53.31,3.20 54.26,0.00 55.52,0.00 C56.78,0.00 57.73,3.20 58.99,3.20 C60.25,3.20 61.20,0.00 62.46,0.00 C63.72,0.00 64.67,3.20 65.93,3.20 C67.19,3.20 68.14,0.00 69.40,0.00 C70.66,0.00 71.61,3.20 72.87,3.20 C74.13,3.20 75.08,0.00 76.34,0.00 C77.60,0.00 78.55,3.20 79.81,3.20 C81.07,3.20 82.02,0.00 83.28,0.00 C84.54,0.00 85.49,3.20 86.75,3.20 C88.01,3.20 88.96,0.00 90.22,0.00 C91.48,0.00 92.43,3.20 93.69,3.20 C94.95,3.20 95.90,0.00 97.16,0.00 C98.42,0.00 99.37,3.20 100.63,3.20 C101.89,3.20 102.84,0.00 104.10,0.00 C105.36,0.00 106.31,3.20 107.57,3.20 C108.83,3.20 109.78,0.00 111.04,0.00 C112.30,0.00 113.25,3.20 114.51,3.20 C115.77,3.20 116.72,0.00 117.98,0.00 C119.24,0.00 120.19,3.20 121.45,3.20 C122.71,3.20 123.66,0.00 124.92,0.00 C126.18,0.00 127.13,3.20 128.39,3.20 C129.65,3.20 130.60,0.00 131.86,0.00 C133.12,0.00 134.07,3.20 135.33,3.20 C136.59,3.20 137.54,0.00 138.80,0.00 C140.06,0.00 141.01,3.20 142.27,3.20 C143.53,3.20 144.48,0.00 145.74,0.00 C147.00,0.00 147.95,3.20 149.21,3.20 C150.47,3.20 151.42,0.00 152.68,0.00 C153.94,0.00 154.89,3.20 156.15,3.20 C157.41,3.20 158.36,0.00 159.62,0.00 C160.88,0.00 161.83,3.20 163.09,3.20 C164.35,3.20 165.30,0.00 166.56,0.00 C167.82,0.00 168.77,3.20 170.03,3.20 C171.29,3.20 172.24,0.00 173.50,0.00 C174.76,0.00 175.71,3.20 176.97,3.20" fill="none" stroke="#e00b0b" stroke-width="1.3"/></svg></div>
<div class="t" style="left:899.2px;top:271.5px"><span>Maximaal 5% van de aanvraag</span></div>
<div class="t" style="left:899.2px;top:287.5px"><span>omgevingsvergunningen overschrijdt de</span></div>
<div class="t" style="left:899.2px;top:303.5px"><span>termijn.</span></div>
<div class="t" style="left:885.2px;top:319.5px"><span>Indicatoren: doorlooptijd reguliere aanvragen,</span></div>
<div class="t" style="left:885.2px;top:335.5px"><span>doorlooptijd adviezen</span></div>
<div class="t" style="left:79.5px;top:386.5px"><span>Het coördineren, verlenen, adviseren en toezicht</span></div>
<div class="t" style="left:79.5px;top:402.5px"><span>houden van monumentenvergunningen en</span></div>
<div class="t" style="left:79.5px;top:418.5px"><span>naleving daarvan</span></div>
<div class="t" style="left:404px;top:386.5px"><span>Tijdig beslissen op een verzoek voor</span></div>
<div class="t" style="left:404px;top:402.5px"><span>een monumentenvergunning</span></div>
<div class="t" style="left:649.7px;top:388.5px"><span><u id="u21" style="text-decoration:none">Omgevingswetmanager</u></span><svg width="1" height="1" style="left:0;top:0"><path d="M0.00,0.00 C1.26,0.00 2.21,3.20 3.47,3.20 C4.73,3.20 5.68,0.00 6.94,0.00 C8.20,0.00 9.15,3.20 10.41,3.20 C11.67,3.20 12.62,0.00 13.88,0.00 C15.14,0.00 16.09,3.20 17.35,3.20 C18.61,3.20 19.56,0.00 20.82,0.00 C22.08,0.00 23.03,3.20 24.29,3.20 C25.55,3.20 26.50,0.00 27.76,0.00 C29.02,0.00 29.97,3.20 31.23,3.20 C32.49,3.20 33.44,0.00 34.70,0.00 C35.96,0.00 36.91,3.20 38.17,3.20 C39.43,3.20 40.38,0.00 41.64,0.00 C42.90,0.00 43.85,3.20 45.11,3.20 C46.37,3.20 47.32,0.00 48.58,0.00 C49.84,0.00 50.79,3.20 52.05,3.20 C53.31,3.20 54.26,0.00 55.52,0.00 C56.78,0.00 57.73,3.20 58.99,3.20 C60.25,3.20 61.20,0.00 62.46,0.00 C63.72,0.00 64.67,3.20 65.93,3.20 C67.19,3.20 68.14,0.00 69.40,0.00 C70.66,0.00 71.61,3.20 72.87,3.20 C74.13,3.20 75.08,0.00 76.34,0.00 C77.60,0.00 78.55,3.20 79.81,3.20 C81.07,3.20 82.02,0.00 83.28,0.00 C84.54,0.00 85.49,3.20 86.75,3.20 C88.01,3.20 88.96,0.00 90.22,0.00 C91.48,0.00 92.43,3.20 93.69,3.20 C94.95,3.20 95.90,0.00 97.16,0.00 C98.42,0.00 99.37,3.20 100.63,3.20 C101.89,3.20 102.84,0.00 104.10,0.00 C105.36,0.00 106.31,3.20 107.57,3.20 C108.83,3.20 109.78,0.00 111.04,0.00 C112.30,0.00 113.25,3.20 114.51,3.20 C115.77,3.20 116.72,0.00 117.98,0.00 C119.24,0.00 120.19,3.20 121.45,3.20 C122.71,3.20 123.66,0.00 124.92,0.00 C126.18,0.00 127.13,3.20 128.39,3.20 C129.65,3.20 130.60,0.00 131.86,0.00 C133.12,0.00 134.07,3.20 135.33,3.20 C136.59,3.20 137.54,0.00 138.80,0.00 C140.06,0.00 141.01,3.20 142.27,3.20 C143.53,3.20 144.48,0.00 145.74,0.00" fill="none" stroke="#e00b0b" stroke-width="1.3"/></svg></div>
<div class="t" style="left:649.7px;top:406.7px"><span><u id="u22" style="text-decoration:none">Adviseur monumenten/erfgoed</u></span><svg width="1" height="1" style="left:0;top:0"><path d="M0.00,0.00 C1.26,0.00 2.21,3.20 3.47,3.20 C4.73,3.20 5.68,0.00 6.94,0.00 C8.20,0.00 9.15,3.20 10.41,3.20 C11.67,3.20 12.62,0.00 13.88,0.00 C15.14,0.00 16.09,3.20 17.35,3.20 C18.61,3.20 19.56,0.00 20.82,0.00 C22.08,0.00 23.03,3.20 24.29,3.20 C25.55,3.20 26.50,0.00 27.76,0.00 C29.02,0.00 29.97,3.20 31.23,3.20 C32.49,3.20 33.44,0.00 34.70,0.00 C35.96,0.00 36.91,3.20 38.17,3.20 C39.43,3.20 40.38,0.00 41.64,0.00 C42.90,0.00 43.85,3.20 45.11,3.20 C46.37,3.20 47.32,0.00 48.58,0.00 C49.84,0.00 50.79,3.20 52.05,3.20 C53.31,3.20 54.26,0.00 55.52,0.00 C56.78,0.00 57.73,3.20 58.99,3.20 C60.25,3.20 61.20,0.00 62.46,0.00 C63.72,0.00 64.67,3.20 65.93,3.20 C67.19,3.20 68.14,0.00 69.40,0.00 C70.66,0.00 71.61,3.20 72.87,3.20 C74.13,3.20 75.08,0.00 76.34,0.00 C77.60,0.00 78.55,3.20 79.81,3.20 C81.07,3.20 82.02,0.00 83.28,0.00 C84.54,0.00 85.49,3.20 86.75,3.20 C88.01,3.20 88.96,0.00 90.22,0.00 C91.48,0.00 92.43,3.20 93.69,3.20 C94.95,3.20 95.90,0.00 97.16,0.00 C98.42,0.00 99.37,3.20 100.63,3.20 C101.89,3.20 102.84,0.00 104.10,0.00 C105.36,0.00 106.31,3.20 107.57,3.20 C108.83,3.20 109.78,0.00 111.04,0.00 C112.30,0.00 113.25,3.20 114.51,3.20 C115.77,3.20 116.72,0.00 117.98,0.00 C119.24,0.00 120.19,3.20 121.45,3.20 C122.71,3.20 123.66,0.00 124.92,0.00 C126.18,0.00 127.13,3.20 128.39,3.20 C129.65,3.20 130.60,0.00 131.86,0.00 C133.12,0.00 134.07,3.20 135.33,3.20 C136.59,3.20 137.54,0.00 138.80,0.00 C140.06,0.00 141.01,3.20 142.27,3.20 C143.53,3.20 144.48,0.00 145.74,0.00 C147.00,0.00 147.95,3.20 149.21,3.20 C150.47,3.20 151.42,0.00 152.68,0.00 C153.94,0.00 154.89,3.20 156.15,3.20 C157.41,3.20 158.36,0.00 159.62,0.00 C160.88,0.00 161.83,3.20 163.09,3.20 C164.35,3.20 165.30,0.00 166.56,0.00 C167.82,0.00 168.77,3.20 170.03,3.20 C171.29,3.20 172.24,0.00 173.50,0.00 C174.76,0.00 175.71,3.20 176.97,3.20 C178.23,3.20 179.18,0.00 180.44,0.00 C181.70,0.00 182.65,3.20 183.91,3.20 C185.17,3.20 186.12,0.00 187.38,0.00 C188.64,0.00 189.59,3.20 190.85,3.20 C192.11,3.20 193.06,0.00 194.32,0.00" fill="none" stroke="#e00b0b" stroke-width="1.3"/></svg></div>
<div class="t" style="left:649.7px;top:425.6px"><span><u id="u23" style="text-decoration:none">Bouwinspecteur monumenten</u></span><svg width="1" height="1" style="left:0;top:0"><path d="M0.00,0.00 C1.26,0.00 2.21,3.20 3.47,3.20 C4.73,3.20 5.68,0.00 6.94,0.00 C8.20,0.00 9.15,3.20 10.41,3.20 C11.67,3.20 12.62,0.00 13.88,0.00 C15.14,0.00 16.09,3.20 17.35,3.20 C18.61,3.20 19.56,0.00 20.82,0.00 C22.08,0.00 23.03,3.20 24.29,3.20 C25.55,3.20 26.50,0.00 27.76,0.00 C29.02,0.00 29.97,3.20 31.23,3.20 C32.49,3.20 33.44,0.00 34.70,0.00 C35.96,0.00 36.91,3.20 38.17,3.20 C39.43,3.20 40.38,0.00 41.64,0.00 C42.90,0.00 43.85,3.20 45.11,3.20 C46.37,3.20 47.32,0.00 48.58,0.00 C49.84,0.00 50.79,3.20 52.05,3.20 C53.31,3.20 54.26,0.00 55.52,0.00 C56.78,0.00 57.73,3.20 58.99,3.20 C60.25,3.20 61.20,0.00 62.46,0.00 C63.72,0.00 64.67,3.20 65.93,3.20 C67.19,3.20 68.14,0.00 69.40,0.00 C70.66,0.00 71.61,3.20 72.87,3.20 C74.13,3.20 75.08,0.00 76.34,0.00 C77.60,0.00 78.55,3.20 79.81,3.20 C81.07,3.20 82.02,0.00 83.28,0.00 C84.54,0.00 85.49,3.20 86.75,3.20 C88.01,3.20 88.96,0.00 90.22,0.00 C91.48,0.00 92.43,3.20 93.69,3.20 C94.95,3.20 95.90,0.00 97.16,0.00 C98.42,0.00 99.37,3.20 100.63,3.20 C101.89,3.20 102.84,0.00 104.10,0.00 C105.36,0.00 106.31,3.20 107.57,3.20 C108.83,3.20 109.78,0.00 111.04,0.00 C112.30,0.00 113.25,3.20 114.51,3.20 C115.77,3.20 116.72,0.00 117.98,0.00 C119.24,0.00 120.19,3.20 121.45,3.20 C122.71,3.20 123.66,0.00 124.92,0.00 C126.18,0.00 127.13,3.20 128.39,3.20 C129.65,3.20 130.60,0.00 131.86,0.00 C133.12,0.00 134.07,3.20 135.33,3.20 C136.59,3.20 137.54,0.00 138.80,0.00 C140.06,0.00 141.01,3.20 142.27,3.20 C143.53,3.20 144.48,0.00 145.74,0.00 C147.00,0.00 147.95,3.20 149.21,3.20 C150.47,3.20 151.42,0.00 152.68,0.00 C153.94,0.00 154.89,3.20 156.15,3.20 C157.41,3.20 158.36,0.00 159.62,0.00 C160.88,0.00 161.83,3.20 163.09,3.20 C164.35,3.20 165.30,0.00 166.56,0.00 C167.82,0.00 168.77,3.20 170.03,3.20 C171.29,3.20 172.24,0.00 173.50,0.00 C174.76,0.00 175.71,3.20 176.97,3.20 C178.23,3.20 179.18,0.00 180.44,0.00 C181.70,0.00 182.65,3.20 183.91,3.20" fill="none" stroke="#e00b0b" stroke-width="1.3"/></svg></div>
<div class="t" style="left:885.2px;top:386.5px"><span>Maximaal 5% van de aanvragen overschrijdt de</span></div>
<div class="t" style="left:885.2px;top:402.5px"><span>termijn Indicatoren: doorlooptijd aanvragen</span></div>
<div class="t" style="left:79.5px;top:483.5px"><span>Toetsing van initiatieven aan het omgevingsplan</span></div>
<div class="t" style="left:79.5px;top:499.5px"><span>(inclusief welstand)</span></div>
<div class="t" style="left:404px;top:483.5px"><span>Tijdig beslissen op ingediende</span></div>
<div class="t" style="left:404px;top:499.5px"><span>plannen</span></div>
<div class="t" style="left:649.7px;top:485.5px"><span><u id="u24" style="text-decoration:none">Juridisch adviseur omgevingsplan</u></span><svg width="1" height="1" style="left:0;top:0"><path d="M0.00,0.00 C1.26,0.00 2.21,3.20 3.47,3.20 C4.73,3.20 5.68,0.00 6.94,0.00 C8.20,0.00 9.15,3.20 10.41,3.20 C11.67,3.20 12.62,0.00 13.88,0.00 C15.14,0.00 16.09,3.20 17.35,3.20 C18.61,3.20 19.56,0.00 20.82,0.00 C22.08,0.00 23.03,3.20 24.29,3.20 C25.55,3.20 26.50,0.00 27.76,0.00 C29.02,0.00 29.97,3.20 31.23,3.20 C32.49,3.20 33.44,0.00 34.70,0.00 C35.96,0.00 36.91,3.20 38.17,3.20 C39.43,3.20 40.38,0.00 41.64,0.00 C42.90,0.00 43.85,3.20 45.11,3.20 C46.37,3.20 47.32,0.00 48.58,0.00 C49.84,0.00 50.79,3.20 52.05,3.20 C53.31,3.20 54.26,0.00 55.52,0.00 C56.78,0.00 57.73,3.20 58.99,3.20 C60.25,3.20 61.20,0.00 62.46,0.00 C63.72,0.00 64.67,3.20 65.93,3.20 C67.19,3.20 68.14,0.00 69.40,0.00 C70.66,0.00 71.61,3.20 72.87,3.20 C74.13,3.20 75.08,0.00 76.34,0.00 C77.60,0.00 78.55,3.20 79.81,3.20 C81.07,3.20 82.02,0.00 83.28,0.00 C84.54,0.00 85.49,3.20 86.75,3.20 C88.01,3.20 88.96,0.00 90.22,0.00 C91.48,0.00 92.43,3.20 93.69,3.20 C94.95,3.20 95.90,0.00 97.16,0.00 C98.42,0.00 99.37,3.20 100.63,3.20 C101.89,3.20 102.84,0.00 104.10,0.00 C105.36,0.00 106.31,3.20 107.57,3.20 C108.83,3.20 109.78,0.00 111.04,0.00 C112.30,0.00 113.25,3.20 114.51,3.20 C115.77,3.20 116.72,0.00 117.98,0.00 C119.24,0.00 120.19,3.20 121.45,3.20 C122.71,3.20 123.66,0.00 124.92,0.00 C126.18,0.00 127.13,3.20 128.39,3.20 C129.65,3.20 130.60,0.00 131.86,0.00 C133.12,0.00 134.07,3.20 135.33,3.20 C136.59,3.20 137.54,0.00 138.80,0.00 C140.06,0.00 141.01,3.20 142.27,3.20 C143.53,3.20 144.48,0.00 145.74,0.00 C147.00,0.00 147.95,3.20 149.21,3.20 C150.47,3.20 151.42,0.00 152.68,0.00 C153.94,0.00 154.89,3.20 156.15,3.20 C157.41,3.20 158.36,0.00 159.62,0.00 C160.88,0.00 161.83,3.20 163.09,3.20 C164.35,3.20 165.30,0.00 166.56,0.00 C167.82,0.00 168.77,3.20 170.03,3.20 C171.29,3.20 172.24,0.00 173.50,0.00 C174.76,0.00 175.71,3.20 176.97,3.20 C178.23,3.20 179.18,0.00 180.44,0.00 C181.70,0.00 182.65,3.20 183.91,3.20 C185.17,3.20 186.12,0.00 187.38,0.00 C188.64,0.00 189.59,3.20 190.85,3.20 C192.11,3.20 193.06,0.00 194.32,0.00 C195.58,0.00 196.53,3.20 197.79,3.20 C199.05,3.20 200.00,0.00 201.26,0.00 C202.52,0.00 203.47,3.20 204.73,3.20 C205.99,3.20 206.94,0.00 208.20,0.00" fill="none" stroke="#e00b0b" stroke-width="1.3"/></svg></div>
<div class="t" style="left:649.7px;top:503.7px"><span><u id="u25" style="text-decoration:none">Initiatiefmanagers</u>/Omgevingswet-</span><svg width="1" height="1" style="left:0;top:0"><path d="M0.00,0.00 C1.26,0.00 2.21,3.20 3.47,3.20 C4.73,3.20 5.68,0.00 6.94,0.00 C8.20,0.00 9.15,3.20 10.41,3.20 C11.67,3.20 12.62,0.00 13.88,0.00 C15.14,0.00 16.09,3.20 17.35,3.20 C18.61,3.20 19.56,0.00 20.82,0.00 C22.08,0.00 23.03,3.20 24.29,3.20 C25.55,3.20 26.50,0.00 27.76,0.00 C29.02,0.00 29.97,3.20 31.23,3.20 C32.49,3.20 33.44,0.00 34.70,0.00 C35.96,0.00 36.91,3.20 38.17,3.20 C39.43,3.20 40.38,0.00 41.64,0.00 C42.90,0.00 43.85,3.20 45.11,3.20 C46.37,3.20 47.32,0.00 48.58,0.00 C49.84,0.00 50.79,3.20 52.05,3.20 C53.31,3.20 54.26,0.00 55.52,0.00 C56.78,0.00 57.73,3.20 58.99,3.20 C60.25,3.20 61.20,0.00 62.46,0.00 C63.72,0.00 64.67,3.20 65.93,3.20 C67.19,3.20 68.14,0.00 69.40,0.00 C70.66,0.00 71.61,3.20 72.87,3.20 C74.13,3.20 75.08,0.00 76.34,0.00 C77.60,0.00 78.55,3.20 79.81,3.20 C81.07,3.20 82.02,0.00 83.28,0.00 C84.54,0.00 85.49,3.20 86.75,3.20 C88.01,3.20 88.96,0.00 90.22,0.00 C91.48,0.00 92.43,3.20 93.69,3.20 C94.95,3.20 95.90,0.00 97.16,0.00 C98.42,0.00 99.37,3.20 100.63,3.20 C101.89,3.20 102.84,0.00 104.10,0.00 C105.36,0.00 106.31,3.20 107.57,3.20 C108.83,3.20 109.78,0.00 111.04,0.00" fill="none" stroke="#e00b0b" stroke-width="1.3"/></svg></div>
<div class="t" style="left:649.7px;top:522px"><span>manager</span></div>
<div class="t" style="left:649.7px;top:540.4px"><span><u id="u26" style="text-decoration:none">Adviseurs</u></span><svg width="1" height="1" style="left:0;top:0"><path d="M0.00,0.00 C1.26,0.00 2.21,3.20 3.47,3.20 C4.73,3.20 5.68,0.00 6.94,0.00 C8.20,0.00 9.15,3.20 10.41,3.20 C11.67,3.20 12.62,0.00 13.88,0.00 C15.14,0.00 16.09,3.20 17.35,3.20 C18.61,3.20 19.56,0.00 20.82,0.00 C22.08,0.00 23.03,3.20 24.29,3.20 C25.55,3.20 26.50,0.00 27.76,0.00 C29.02,0.00 29.97,3.20 31.23,3.20 C32.49,3.20 33.44,0.00 34.70,0.00 C35.96,0.00 36.91,3.20 38.17,3.20 C39.43,3.20 40.38,0.00 41.64,0.00 C42.90,0.00 43.85,3.20 45.11,3.20 C46.37,3.20 47.32,0.00 48.58,0.00 C49.84,0.00 50.79,3.20 52.05,3.20 C53.31,3.20 54.26,0.00 55.52,0.00 C56.78,0.00 57.73,3.20 58.99,3.20 C60.25,3.20 61.20,0.00 62.46,0.00" fill="none" stroke="#e00b0b" stroke-width="1.3"/></svg></div>
<div class="t" style="left:899.2px;top:483.5px"><span>Minimaal 85% van de initiatiefplannen</span></div>
<div class="t" style="left:899.2px;top:499.5px"><span>wordt binnen gemiddeld 8 weken</span></div>
<div class="t" style="left:899.2px;top:515.5px"><span>afgehandeld (exclusief wachttijd)</span></div>
<div class="t" style="left:885.2px;top:531.2px"><span>Indicatoren: doorlooptijd initiatiefplannen, aantal</span></div>
<div class="t" style="left:885.2px;top:547px"><span>intake- en omgevingstafels</span></div>
<div class="t" style="left:79.5px;top:579.5px"><span>Procesvertegenwoordiging bij</span></div>
<div class="t" style="left:79.5px;top:595.5px"><span>bezwarencommissie, rechtbank en Raad van</span></div>
<div class="t" style="left:79.5px;top:611.5px"><span>State</span></div>
<div class="t" style="left:404px;top:579.5px"><span>Omgevingsvergunningen en</span></div>
<div class="t" style="left:404px;top:595.5px"><span>aanschrijvingen doorstaan de</span></div>
<div class="t" style="left:404px;top:611.5px"><span>gerechtelijke toets</span></div>
<div class="t" style="left:649.7px;top:579.5px"><span><u id="u27" style="text-decoration:none">Juridisch adviseurs</u></span><svg width="1" height="1" style="left:0;top:0"><path d="M0.00,0.00 C1.26,0.00 2.21,3.20 3.47,3.20 C4.73,3.20 5.68,0.00 6.94,0.00 C8.20,0.00 9.15,3.20 10.41,3.20 C11.67,3.20 12.62,0.00 13.88,0.00 C15.14,0.00 16.09,3.20 17.35,3.20 C18.61,3.20 19.56,0.00 20.82,0.00 C22.08,0.00 23.03,3.20 24.29,3.20 C25.55,3.20 26.50,0.00 27.76,0.00 C29.02,0.00 29.97,3.20 31.23,3.20 C32.49,3.20 33.44,0.00 34.70,0.00 C35.96,0.00 36.91,3.20 38.17,3.20 C39.43,3.20 40.38,0.00 41.64,0.00 C42.90,0.00 43.85,3.20 45.11,3.20 C46.37,3.20 47.32,0.00 48.58,0.00 C49.84,0.00 50.79,3.20 52.05,3.20 C53.31,3.20 54.26,0.00 55.52,0.00 C56.78,0.00 57.73,3.20 58.99,3.20 C60.25,3.20 61.20,0.00 62.46,0.00 C63.72,0.00 64.67,3.20 65.93,3.20 C67.19,3.20 68.14,0.00 69.40,0.00 C70.66,0.00 71.61,3.20 72.87,3.20 C74.13,3.20 75.08,0.00 76.34,0.00 C77.60,0.00 78.55,3.20 79.81,3.20 C81.07,3.20 82.02,0.00 83.28,0.00 C84.54,0.00 85.49,3.20 86.75,3.20 C88.01,3.20 88.96,0.00 90.22,0.00 C91.48,0.00 92.43,3.20 93.69,3.20 C94.95,3.20 95.90,0.00 97.16,0.00 C98.42,0.00 99.37,3.20 100.63,3.20 C101.89,3.20 102.84,0.00 104.10,0.00 C105.36,0.00 106.31,3.20 107.57,3.20 C108.83,3.20 109.78,0.00 111.04,0.00 C112.30,0.00 113.25,3.20 114.51,3.20 C115.77,3.20 116.72,0.00 117.98,0.00" fill="none" stroke="#e00b0b" stroke-width="1.3"/></svg></div>
<div class="t" style="left:885.2px;top:579.5px"><span>Indicatoren: aantal bezwaren gegrond verklaard</span></div>
<div class="t" style="left:79.5px;top:670.5px"><span><u id="u28" style="text-decoration:none">Beantwoorden</u> van <u id="u29" style="text-decoration:none">klantvragen</u></span><svg width="1" height="1" style="left:0;top:0"><path d="M0.00,0.00 C1.26,0.00 2.21,3.20 3.47,3.20 C4.73,3.20 5.68,0.00 6.94,0.00 C8.20,0.00 9.15,3.20 10.41,3.20 C11.67,3.20 12.62,0.00 13.88,0.00 C15.14,0.00 16.09,3.20 17.35,3.20 C18.61,3.20 19.56,0.00 20.82,0.00 C22.08,0.00 23.03,3.20 24.29,3.20 C25.55,3.20 26.50,0.00 27.76,0.00 C29.02,0.00 29.97,3.20 31.23,3.20 C32.49,3.20 33.44,0.00 34.70,0.00 C35.96,0.00 36.91,3.20 38.17,3.20 C39.43,3.20 40.38,0.00 41.64,0.00 C42.90,0.00 43.85,3.20 45.11,3.20 C46.37,3.20 47.32,0.00 48.58,0.00 C49.84,0.00 50.79,3.20 52.05,3.20 C53.31,3.20 54.26,0.00 55.52,0.00 C56.78,0.00 57.73,3.20 58.99,3.20 C60.25,3.20 61.20,0.00 62.46,0.00 C63.72,0.00 64.67,3.20 65.93,3.20 C67.19,3.20 68.14,0.00 69.40,0.00 C70.66,0.00 71.61,3.20 72.87,3.20 C74.13,3.20 75.08,0.00 76.34,0.00 C77.60,0.00 78.55,3.20 79.81,3.20 C81.07,3.20 82.02,0.00 83.28,0.00 C84.54,0.00 85.49,3.20 86.75,3.20 C88.01,3.20 88.96,0.00 90.22,0.00" fill="none" stroke="#e00b0b" stroke-width="1.3"/></svg><svg width="1" height="1" style="left:0;top:0"><path d="M119.00,0.00 C120.26,0.00 121.21,3.20 122.47,3.20 C123.73,3.20 124.68,0.00 125.94,0.00 C127.20,0.00 128.15,3.20 129.41,3.20 C130.67,3.20 131.62,0.00 132.88,0.00 C134.14,0.00 135.09,3.20 136.35,3.20 C137.61,3.20 138.56,0.00 139.82,0.00 C141.08,0.00 142.03,3.20 143.29,3.20 C144.55,3.20 145.50,0.00 146.76,0.00 C148.02,0.00 148.97,3.20 150.23,3.20 C151.49,3.20 152.44,0.00 153.70,0.00 C154.96,0.00 155.91,3.20 157.17,3.20 C158.43,3.20 159.38,0.00 160.64,0.00 C161.90,0.00 162.85,3.20 164.11,3.20 C165.37,3.20 166.32,0.00 167.58,0.00 C168.84,0.00 169.79,3.20 171.05,3.20 C172.31,3.20 173.26,0.00 174.52,0.00 C175.78,0.00 176.73,3.20 177.99,3.20 C179.25,3.20 180.20,0.00 181.46,0.00 C182.72,0.00 183.67,3.20 184.93,3.20 C186.19,3.20 187.14,0.00 188.40,0.00 C189.66,0.00 190.61,3.20 191.87,3.20" fill="none" stroke="#e00b0b" stroke-width="1.3"/></svg></div>
<div class="t" style="left:404px;top:670.5px"><span>Tijdig antwoord geven op gestelde</span></div>
<div class="t" style="left:404px;top:686.5px"><span>vragen</span></div>
<div class="t" style="left:649.7px;top:672.5px"><span><u id="u30" style="text-decoration:none">Vergunningverleners</u></span><svg width="1" height="1" style="left:0;top:0"><path d="M0.00,0.00 C1.26,0.00 2.21,3.20 3.47,3.20 C4.73,3.20 5.68,0.00 6.94,0.00 C8.20,0.00 9.15,3.20 10.41,3.20 C11.67,3.20 12.62,0.00 13.88,0.00 C15.14,0.00 16.09,3.20 17.35,3.20 C18.61,3.20 19.56,0.00 20.82,0.00 C22.08,0.00 23.03,3.20 24.29,3.20 C25.55,3.20 26.50,0.00 27.76,0.00 C29.02,0.00 29.97,3.20 31.23,3.20 C32.49,3.20 33.44,0.00 34.70,0.00 C35.96,0.00 36.91,3.20 38.17,3.20 C39.43,3.20 40.38,0.00 41.64,0.00 C42.90,0.00 43.85,3.20 45.11,3.20 C46.37,3.20 47.32,0.00 48.58,0.00 C49.84,0.00 50.79,3.20 52.05,3.20 C53.31,3.20 54.26,0.00 55.52,0.00 C56.78,0.00 57.73,3.20 58.99,3.20 C60.25,3.20 61.20,0.00 62.46,0.00 C63.72,0.00 64.67,3.20 65.93,3.20 C67.19,3.20 68.14,0.00 69.40,0.00 C70.66,0.00 71.61,3.20 72.87,3.20 C74.13,3.20 75.08,0.00 76.34,0.00 C77.60,0.00 78.55,3.20 79.81,3.20 C81.07,3.20 82.02,0.00 83.28,0.00 C84.54,0.00 85.49,3.20 86.75,3.20 C88.01,3.20 88.96,0.00 90.22,0.00 C91.48,0.00 92.43,3.20 93.69,3.20 C94.95,3.20 95.90,0.00 97.16,0.00 C98.42,0.00 99.37,3.20 100.63,3.20 C101.89,3.20 102.84,0.00 104.10,0.00 C105.36,0.00 106.31,3.20 107.57,3.20 C108.83,3.20 109.78,0.00 111.04,0.00 C112.30,0.00 113.25,3.20 114.51,3.20 C115.77,3.20 116.72,0.00 117.98,0.00 C119.24,0.00 120.19,3.20 121.45,3.20 C122.71,3.20 123.66,0.00 124.92,0.00 C126.18,0.00 127.13,3.20 128.39,3.20" fill="none" stroke="#e00b0b" stroke-width="1.3"/></svg></div>
<div class="t" style="left:649.7px;top:690.7px"><span><u id="u31" style="text-decoration:none">Adviseurs</u></span><svg width="1" height="1" style="left:0;top:0"><path d="M0.00,0.00 C1.26,0.00 2.21,3.20 3.47,3.20 C4.73,3.20 5.68,0.00 6.94,0.00 C8.20,0.00 9.15,3.20 10.41,3.20 C11.67,3.20 12.62,0.00 13.88,0.00 C15.14,0.00 16.09,3.20 17.35,3.20 C18.61,3.20 19.56,0.00 20.82,0.00 C22.08,0.00 23.03,3.20 24.29,3.20 C25.55,3.20 26.50,0.00 27.76,0.00 C29.02,0.00 29.97,3.20 31.23,3.20 C32.49,3.20 33.44,0.00 34.70,0.00 C35.96,0.00 36.91,3.20 38.17,3.20 C39.43,3.20 40.38,0.00 41.64,0.00 C42.90,0.00 43.85,3.20 45.11,3.20 C46.37,3.20 47.32,0.00 48.58,0.00 C49.84,0.00 50.79,3.20 52.05,3.20 C53.31,3.20 54.26,0.00 55.52,0.00 C56.78,0.00 57.73,3.20 58.99,3.20 C60.25,3.20 61.20,0.00 62.46,0.00" fill="none" stroke="#e00b0b" stroke-width="1.3"/></svg></div>
<div class="t" style="left:899.2px;top:670.5px"><span>Minimaal 85% van de klantvragen wordt</span></div>
<div class="t" style="left:899.2px;top:686.5px"><span>binnen 10 werkdagen afgehandeld</span></div>
<div class="t" style="left:885.2px;top:703.6px"><span>Indicatoren: doorlooptijd van de klantvragen</span></div>
<div class="r" style="left:29.4px;top:127.6px"><span>Melding</span></div>
<div class="r" style="left:44.2px;top:128.3px;transform:rotate(-90deg) scaleX(1.037)"><span><u id="u32" style="text-decoration:none">brandveilig</u></span><svg width="1" height="1" style="left:0;top:0"><path d="M0.00,-0.90 C1.26,-0.90 2.21,2.30 3.47,2.30 C4.73,2.30 5.68,-0.90 6.94,-0.90 C8.20,-0.90 9.15,2.30 10.41,2.30 C11.67,2.30 12.62,-0.90 13.88,-0.90 C15.14,-0.90 16.09,2.30 17.35,2.30 C18.61,2.30 19.56,-0.90 20.82,-0.90 C22.08,-0.90 23.03,2.30 24.29,2.30 C25.55,2.30 26.50,-0.90 27.76,-0.90 C29.02,-0.90 29.97,2.30 31.23,2.30 C32.49,2.30 33.44,-0.90 34.70,-0.90 C35.96,-0.90 36.91,2.30 38.17,2.30 C39.43,2.30 40.38,-0.90 41.64,-0.90 C42.90,-0.90 43.85,2.30 45.11,2.30 C46.37,2.30 47.32,-0.90 48.58,-0.90 C49.84,-0.90 50.79,2.30 52.05,2.30 C53.31,2.30 54.26,-0.90 55.52,-0.90 C56.78,-0.90 57.73,2.30 58.99,2.30 C60.25,2.30 61.20,-0.90 62.46,-0.90 C63.72,-0.90 64.67,2.30 65.93,2.30 C67.19,2.30 68.14,-0.90 69.40,-0.90 C70.66,-0.90 71.61,2.30 72.87,2.30 C74.13,2.30 75.08,-0.90 76.34,-0.90" fill="none" stroke="#e00b0b" stroke-width="1.3"/></svg></div>
<div class="r" style="left:59.7px;top:129px;transform:rotate(-90deg) scaleX(1.065)"><span><u id="u33" style="text-decoration:none">gebruik</u></span><svg width="1" height="1" style="left:0;top:0"><path d="M0.00,-0.90 C1.26,-0.90 2.21,2.30 3.47,2.30 C4.73,2.30 5.68,-0.90 6.94,-0.90 C8.20,-0.90 9.15,2.30 10.41,2.30 C11.67,2.30 12.62,-0.90 13.88,-0.90 C15.14,-0.90 16.09,2.30 17.35,2.30 C18.61,2.30 19.56,-0.90 20.82,-0.90 C22.08,-0.90 23.03,2.30 24.29,2.30 C25.55,2.30 26.50,-0.90 27.76,-0.90 C29.02,-0.90 29.97,2.30 31.23,2.30 C32.49,2.30 33.44,-0.90 34.70,-0.90 C35.96,-0.90 36.91,2.30 38.17,2.30 C39.43,2.30 40.38,-0.90 41.64,-0.90 C42.90,-0.90 43.85,2.30 45.11,2.30 C46.37,2.30 47.32,-0.90 48.58,-0.90 C49.84,-0.90 50.79,2.30 52.05,2.30" fill="none" stroke="#e00b0b" stroke-width="1.3"/></svg></div>
<div class="r" style="left:30.2px;top:219.5px"><span>Bouwen</span></div>
<div class="r" style="left:45.2px;top:225px;transform:rotate(-90deg) scaleX(1.06)"><span><u id="u34" style="text-decoration:none">technisch</u></span><svg width="1" height="1" style="left:0;top:0"><path d="M0.00,-0.90 C1.26,-0.90 2.21,2.30 3.47,2.30 C4.73,2.30 5.68,-0.90 6.94,-0.90 C8.20,-0.90 9.15,2.30 10.41,2.30 C11.67,2.30 12.62,-0.90 13.88,-0.90 C15.14,-0.90 16.09,2.30 17.35,2.30 C18.61,2.30 19.56,-0.90 20.82,-0.90 C22.08,-0.90 23.03,2.30 24.29,2.30 C25.55,2.30 26.50,-0.90 27.76,-0.90 C29.02,-0.90 29.97,2.30 31.23,2.30 C32.49,2.30 33.44,-0.90 34.70,-0.90 C35.96,-0.90 36.91,2.30 38.17,2.30 C39.43,2.30 40.38,-0.90 41.64,-0.90 C42.90,-0.90 43.85,2.30 45.11,2.30 C46.37,2.30 47.32,-0.90 48.58,-0.90 C49.84,-0.90 50.79,2.30 52.05,2.30 C53.31,2.30 54.26,-0.90 55.52,-0.90 C56.78,-0.90 57.73,2.30 58.99,2.30 C60.25,2.30 61.20,-0.90 62.46,-0.90" fill="none" stroke="#e00b0b" stroke-width="1.3"/></svg></div>
<div class="r" style="left:25.5px;top:360px"><span><u id="u35" style="text-decoration:none">Omgevingsplan</u></span><svg width="1" height="1" style="left:0;top:0"><path d="M0.00,-0.90 C1.26,-0.90 2.21,2.30 3.47,2.30 C4.73,2.30 5.68,-0.90 6.94,-0.90 C8.20,-0.90 9.15,2.30 10.41,2.30 C11.67,2.30 12.62,-0.90 13.88,-0.90 C15.14,-0.90 16.09,2.30 17.35,2.30 C18.61,2.30 19.56,-0.90 20.82,-0.90 C22.08,-0.90 23.03,2.30 24.29,2.30 C25.55,2.30 26.50,-0.90 27.76,-0.90 C29.02,-0.90 29.97,2.30 31.23,2.30 C32.49,2.30 33.44,-0.90 34.70,-0.90 C35.96,-0.90 36.91,2.30 38.17,2.30 C39.43,2.30 40.38,-0.90 41.64,-0.90 C42.90,-0.90 43.85,2.30 45.11,2.30 C46.37,2.30 47.32,-0.90 48.58,-0.90 C49.84,-0.90 50.79,2.30 52.05,2.30 C53.31,2.30 54.26,-0.90 55.52,-0.90 C56.78,-0.90 57.73,2.30 58.99,2.30 C60.25,2.30 61.20,-0.90 62.46,-0.90 C63.72,-0.90 64.67,2.30 65.93,2.30 C67.19,2.30 68.14,-0.90 69.40,-0.90 C70.66,-0.90 71.61,2.30 72.87,2.30 C74.13,2.30 75.08,-0.90 76.34,-0.90 C77.60,-0.90 78.55,2.30 79.81,2.30 C81.07,2.30 82.02,-0.90 83.28,-0.90 C84.54,-0.90 85.49,2.30 86.75,2.30 C88.01,2.30 88.96,-0.90 90.22,-0.90 C91.48,-0.90 92.43,2.30 93.69,2.30 C94.95,2.30 95.90,-0.90 97.16,-0.90 C98.42,-0.90 99.37,2.30 100.63,2.30 C101.89,2.30 102.84,-0.90 104.10,-0.90" fill="none" stroke="#e00b0b" stroke-width="1.3"/></svg></div>
<div class="r" style="left:41.5px;top:340.4px;transform:rotate(-90deg) scaleX(1.03)"><span><u id="u36" style="text-decoration:none">activiteit</u></span><svg width="1" height="1" style="left:0;top:0"><path d="M0.00,-0.90 C1.26,-0.90 2.21,2.30 3.47,2.30 C4.73,2.30 5.68,-0.90 6.94,-0.90 C8.20,-0.90 9.15,2.30 10.41,2.30 C11.67,2.30 12.62,-0.90 13.88,-0.90 C15.14,-0.90 16.09,2.30 17.35,2.30 C18.61,2.30 19.56,-0.90 20.82,-0.90 C22.08,-0.90 23.03,2.30 24.29,2.30 C25.55,2.30 26.50,-0.90 27.76,-0.90 C29.02,-0.90 29.97,2.30 31.23,2.30 C32.49,2.30 33.44,-0.90 34.70,-0.90 C35.96,-0.90 36.91,2.30 38.17,2.30 C39.43,2.30 40.38,-0.90 41.64,-0.90 C42.90,-0.90 43.85,2.30 45.11,2.30 C46.37,2.30 47.32,-0.90 48.58,-0.90 C49.84,-0.90 50.79,2.30 52.05,2.30 C53.31,2.30 54.26,-0.90 55.52,-0.90 C56.78,-0.90 57.73,2.30 58.99,2.30" fill="none" stroke="#e00b0b" stroke-width="1.3"/></svg></div>
<div class="r" style="left:40px;top:458.9px"><span><u id="u37" style="text-decoration:none">Monumenten</u></span><svg width="1" height="1" style="left:0;top:0"><path d="M0.00,-0.90 C1.26,-0.90 2.21,2.30 3.47,2.30 C4.73,2.30 5.68,-0.90 6.94,-0.90 C8.20,-0.90 9.15,2.30 10.41,2.30 C11.67,2.30 12.62,-0.90 13.88,-0.90 C15.14,-0.90 16.09,2.30 17.35,2.30 C18.61,2.30 19.56,-0.90 20.82,-0.90 C22.08,-0.90 23.03,2.30 24.29,2.30 C25.55,2.30 26.50,-0.90 27.76,-0.90 C29.02,-0.90 29.97,2.30 31.23,2.30 C32.49,2.30 33.44,-0.90 34.70,-0.90 C35.96,-0.90 36.91,2.30 38.17,2.30 C39.43,2.30 40.38,-0.90 41.64,-0.90 C42.90,-0.90 43.85,2.30 45.11,2.30 C46.37,2.30 47.32,-0.90 48.58,-0.90 C49.84,-0.90 50.79,2.30 52.05,2.30 C53.31,2.30 54.26,-0.90 55.52,-0.90 C56.78,-0.90 57.73,2.30 58.99,2.30 C60.25,2.30 61.20,-0.90 62.46,-0.90 C63.72,-0.90 64.67,2.30 65.93,2.30 C67.19,2.30 68.14,-0.90 69.40,-0.90 C70.66,-0.90 71.61,2.30 72.87,2.30 C74.13,2.30 75.08,-0.90 76.34,-0.90 C77.60,-0.90 78.55,2.30 79.81,2.30 C81.07,2.30 82.02,-0.90 83.28,-0.90 C84.54,-0.90 85.49,2.30 86.75,2.30 C88.01,2.30 88.96,-0.90 90.22,-0.90" fill="none" stroke="#e00b0b" stroke-width="1.3"/></svg></div>
<div class="r" style="left:39px;top:555px"><span><u id="u38" style="text-decoration:none">Initiatiefplan</u></span><svg width="1" height="1" style="left:0;top:0"><path d="M0.00,-0.90 C1.26,-0.90 2.21,2.30 3.47,2.30 C4.73,2.30 5.68,-0.90 6.94,-0.90 C8.20,-0.90 9.15,2.30 10.41,2.30 C11.67,2.30 12.62,-0.90 13.88,-0.90 C15.14,-0.90 16.09,2.30 17.35,2.30 C18.61,2.30 19.56,-0.90 20.82,-0.90 C22.08,-0.90 23.03,2.30 24.29,2.30 C25.55,2.30 26.50,-0.90 27.76,-0.90 C29.02,-0.90 29.97,2.30 31.23,2.30 C32.49,2.30 33.44,-0.90 34.70,-0.90 C35.96,-0.90 36.91,2.30 38.17,2.30 C39.43,2.30 40.38,-0.90 41.64,-0.90 C42.90,-0.90 43.85,2.30 45.11,2.30 C46.37,2.30 47.32,-0.90 48.58,-0.90 C49.84,-0.90 50.79,2.30 52.05,2.30 C53.31,2.30 54.26,-0.90 55.52,-0.90 C56.78,-0.90 57.73,2.30 58.99,2.30 C60.25,2.30 61.20,-0.90 62.46,-0.90 C63.72,-0.90 64.67,2.30 65.93,2.30 C67.19,2.30 68.14,-0.90 69.40,-0.90 C70.66,-0.90 71.61,2.30 72.87,2.30 C74.13,2.30 75.08,-0.90 76.34,-0.90 C77.60,-0.90 78.55,2.30 79.81,2.30 C81.07,2.30 82.02,-0.90 83.28,-0.90 C84.54,-0.90 85.49,2.30 86.75,2.30" fill="none" stroke="#e00b0b" stroke-width="1.3"/></svg></div>
<div class="r" style="left:26px;top:633px"><span><u id="u39" style="text-decoration:none">Bezwaa</u></span><svg width="1" height="1" style="left:0;top:0"><path d="M0.00,-0.90 C1.26,-0.90 2.21,2.30 3.47,2.30 C4.73,2.30 5.68,-0.90 6.94,-0.90 C8.20,-0.90 9.15,2.30 10.41,2.30 C11.67,2.30 12.62,-0.90 13.88,-0.90 C15.14,-0.90 16.09,2.30 17.35,2.30 C18.61,2.30 19.56,-0.90 20.82,-0.90 C22.08,-0.90 23.03,2.30 24.29,2.30 C25.55,2.30 26.50,-0.90 27.76,-0.90 C29.02,-0.90 29.97,2.30 31.23,2.30 C32.49,2.30 33.44,-0.90 34.70,-0.90 C35.96,-0.90 36.91,2.30 38.17,2.30 C39.43,2.30 40.38,-0.90 41.64,-0.90 C42.90,-0.90 43.85,2.30 45.11,2.30 C46.37,2.30 47.32,-0.90 48.58,-0.90 C49.84,-0.90 50.79,2.30 52.05,2.30" fill="none" stroke="#e00b0b" stroke-width="1.3"/></svg></div>
<div class="r" style="left:42px;top:638.5px"><span><u id="u40" style="text-decoration:none">r en</u></span><svg width="1" height="1" style="left:0;top:0"><path d="M0.00,-0.90 C1.26,-0.90 2.21,2.30 3.47,2.30 C4.73,2.30 5.68,-0.90 6.94,-0.90 C8.20,-0.90 9.15,2.30 10.41,2.30 C11.67,2.30 12.62,-0.90 13.88,-0.90 C15.14,-0.90 16.09,2.30 17.35,2.30 C18.61,2.30 19.56,-0.90 20.82,-0.90 C22.08,-0.90 23.03,2.30 24.29,2.30 C25.55,2.30 26.50,-0.90 27.76,-0.90" fill="none" stroke="#e00b0b" stroke-width="1.3"/></svg></div>
<div class="r" style="left:58px;top:638.5px;transform:rotate(-90deg) scaleX(1.05)"><span><u id="u41" style="text-decoration:none">beroep</u></span><svg width="1" height="1" style="left:0;top:0"><path d="M0.00,-0.90 C1.26,-0.90 2.21,2.30 3.47,2.30 C4.73,2.30 5.68,-0.90 6.94,-0.90 C8.20,-0.90 9.15,2.30 10.41,2.30 C11.67,2.30 12.62,-0.90 13.88,-0.90 C15.14,-0.90 16.09,2.30 17.35,2.30 C18.61,2.30 19.56,-0.90 20.82,-0.90 C22.08,-0.90 23.03,2.30 24.29,2.30 C25.55,2.30 26.50,-0.90 27.76,-0.90 C29.02,-0.90 29.97,2.30 31.23,2.30 C32.49,2.30 33.44,-0.90 34.70,-0.90 C35.96,-0.90 36.91,2.30 38.17,2.30 C39.43,2.30 40.38,-0.90 41.64,-0.90 C42.90,-0.90 43.85,2.30 45.11,2.30" fill="none" stroke="#e00b0b" stroke-width="1.3"/></svg></div>
<div class="r" style="left:39px;top:735.6px;transform:rotate(-90deg) scaleX(0.964)"><span><u id="u42" style="text-decoration:none">Klantvragen</u></span><svg width="1" height="1" style="left:0;top:0"><path d="M0.00,-0.90 C1.26,-0.90 2.21,2.30 3.47,2.30 C4.73,2.30 5.68,-0.90 6.94,-0.90 C8.20,-0.90 9.15,2.30 10.41,2.30 C11.67,2.30 12.62,-0.90 13.88,-0.90 C15.14,-0.90 16.09,2.30 17.35,2.30 C18.61,2.30 19.56,-0.90 20.82,-0.90 C22.08,-0.90 23.03,2.30 24.29,2.30 C25.55,2.30 26.50,-0.90 27.76,-0.90 C29.02,-0.90 29.97,2.30 31.23,2.30 C32.49,2.30 33.44,-0.90 34.70,-0.90 C35.96,-0.90 36.91,2.30 38.17,2.30 C39.43,2.30 40.38,-0.90 41.64,-0.90 C42.90,-0.90 43.85,2.30 45.11,2.30 C46.37,2.30 47.32,-0.90 48.58,-0.90 C49.84,-0.90 50.79,2.30 52.05,2.30 C53.31,2.30 54.26,-0.90 55.52,-0.90 C56.78,-0.90 57.73,2.30 58.99,2.30 C60.25,2.30 61.20,-0.90 62.46,-0.90 C63.72,-0.90 64.67,2.30 65.93,2.30 C67.19,2.30 68.14,-0.90 69.40,-0.90 C70.66,-0.90 71.61,2.30 72.87,2.30 C74.13,2.30 75.08,-0.90 76.34,-0.90 C77.60,-0.90 78.55,2.30 79.81,2.30 C81.07,2.30 82.02,-0.90 83.28,-0.90" fill="none" stroke="#e00b0b" stroke-width="1.3"/></svg></div>
</body></html>
